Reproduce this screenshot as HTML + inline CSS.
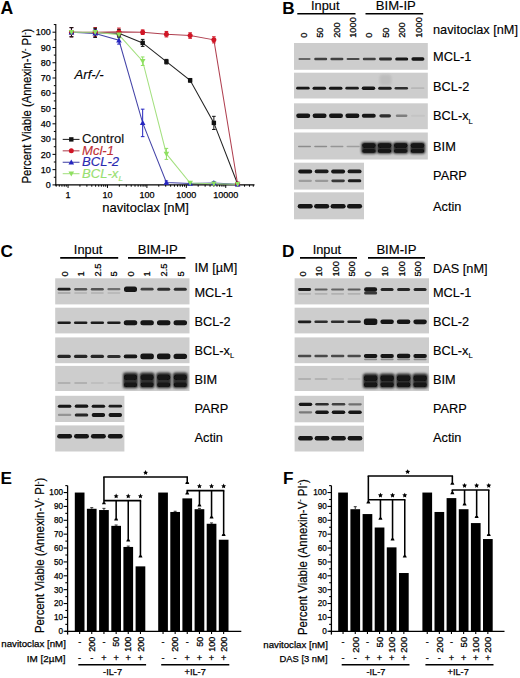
<!DOCTYPE html>
<html><head><meta charset="utf-8"><style>
html,body{margin:0;padding:0;background:#fff;}
body{width:520px;height:678px;overflow:hidden;font-family:"Liberation Sans",sans-serif;}
svg{display:block;}
</style></head><body>
<svg width="520" height="678" viewBox="0 0 520 678" font-family="&quot;Liberation Sans&quot;, sans-serif"><text x="0.60" y="13.90" font-size="17.6" text-anchor="start" font-weight="bold" font-style="normal" fill="#000" >A</text>
<line x1="55.80" y1="24.07" x2="55.80" y2="185.40" stroke="#000" stroke-width="1.1" />
<line x1="55.30" y1="184.90" x2="254.50" y2="184.90" stroke="#000" stroke-width="1.1" />
<line x1="52.50" y1="184.90" x2="55.80" y2="184.90" stroke="#000" stroke-width="1.0" />
<text x="50.80" y="188.10" font-size="9" text-anchor="end" font-weight="normal" font-style="normal" fill="#000" stroke="#000" stroke-width="0.25" >0</text>
<line x1="53.80" y1="177.27" x2="55.80" y2="177.27" stroke="#000" stroke-width="1.0" />
<line x1="52.50" y1="169.63" x2="55.80" y2="169.63" stroke="#000" stroke-width="1.0" />
<text x="50.80" y="172.83" font-size="9" text-anchor="end" font-weight="normal" font-style="normal" fill="#000" stroke="#000" stroke-width="0.25" >10</text>
<line x1="53.80" y1="162.00" x2="55.80" y2="162.00" stroke="#000" stroke-width="1.0" />
<line x1="52.50" y1="154.36" x2="55.80" y2="154.36" stroke="#000" stroke-width="1.0" />
<text x="50.80" y="157.56" font-size="9" text-anchor="end" font-weight="normal" font-style="normal" fill="#000" stroke="#000" stroke-width="0.25" >20</text>
<line x1="53.80" y1="146.73" x2="55.80" y2="146.73" stroke="#000" stroke-width="1.0" />
<line x1="52.50" y1="139.09" x2="55.80" y2="139.09" stroke="#000" stroke-width="1.0" />
<text x="50.80" y="142.29" font-size="9" text-anchor="end" font-weight="normal" font-style="normal" fill="#000" stroke="#000" stroke-width="0.25" >30</text>
<line x1="53.80" y1="131.46" x2="55.80" y2="131.46" stroke="#000" stroke-width="1.0" />
<line x1="52.50" y1="123.82" x2="55.80" y2="123.82" stroke="#000" stroke-width="1.0" />
<text x="50.80" y="127.02" font-size="9" text-anchor="end" font-weight="normal" font-style="normal" fill="#000" stroke="#000" stroke-width="0.25" >40</text>
<line x1="53.80" y1="116.19" x2="55.80" y2="116.19" stroke="#000" stroke-width="1.0" />
<line x1="52.50" y1="108.55" x2="55.80" y2="108.55" stroke="#000" stroke-width="1.0" />
<text x="50.80" y="111.75" font-size="9" text-anchor="end" font-weight="normal" font-style="normal" fill="#000" stroke="#000" stroke-width="0.25" >50</text>
<line x1="53.80" y1="100.92" x2="55.80" y2="100.92" stroke="#000" stroke-width="1.0" />
<line x1="52.50" y1="93.28" x2="55.80" y2="93.28" stroke="#000" stroke-width="1.0" />
<text x="50.80" y="96.48" font-size="9" text-anchor="end" font-weight="normal" font-style="normal" fill="#000" stroke="#000" stroke-width="0.25" >60</text>
<line x1="53.80" y1="85.65" x2="55.80" y2="85.65" stroke="#000" stroke-width="1.0" />
<line x1="52.50" y1="78.01" x2="55.80" y2="78.01" stroke="#000" stroke-width="1.0" />
<text x="50.80" y="81.21" font-size="9" text-anchor="end" font-weight="normal" font-style="normal" fill="#000" stroke="#000" stroke-width="0.25" >70</text>
<line x1="53.80" y1="70.38" x2="55.80" y2="70.38" stroke="#000" stroke-width="1.0" />
<line x1="52.50" y1="62.74" x2="55.80" y2="62.74" stroke="#000" stroke-width="1.0" />
<text x="50.80" y="65.94" font-size="9" text-anchor="end" font-weight="normal" font-style="normal" fill="#000" stroke="#000" stroke-width="0.25" >80</text>
<line x1="53.80" y1="55.11" x2="55.80" y2="55.11" stroke="#000" stroke-width="1.0" />
<line x1="52.50" y1="47.47" x2="55.80" y2="47.47" stroke="#000" stroke-width="1.0" />
<text x="50.80" y="50.67" font-size="9" text-anchor="end" font-weight="normal" font-style="normal" fill="#000" stroke="#000" stroke-width="0.25" >90</text>
<line x1="53.80" y1="39.84" x2="55.80" y2="39.84" stroke="#000" stroke-width="1.0" />
<line x1="52.50" y1="32.20" x2="55.80" y2="32.20" stroke="#000" stroke-width="1.0" />
<text x="50.80" y="35.40" font-size="9" text-anchor="end" font-weight="normal" font-style="normal" fill="#000" stroke="#000" stroke-width="0.25" >100</text>
<line x1="53.80" y1="24.57" x2="55.80" y2="24.57" stroke="#000" stroke-width="1.0" />
<line x1="68.06" y1="184.90" x2="68.06" y2="187.90" stroke="#000" stroke-width="1.0" />
<line x1="79.93" y1="184.90" x2="79.93" y2="186.70" stroke="#000" stroke-width="1.0" />
<line x1="86.87" y1="184.90" x2="86.87" y2="186.70" stroke="#000" stroke-width="1.0" />
<line x1="91.79" y1="184.90" x2="91.79" y2="186.70" stroke="#000" stroke-width="1.0" />
<line x1="95.61" y1="184.90" x2="95.61" y2="186.70" stroke="#000" stroke-width="1.0" />
<line x1="98.73" y1="184.90" x2="98.73" y2="186.70" stroke="#000" stroke-width="1.0" />
<line x1="101.37" y1="184.90" x2="101.37" y2="186.70" stroke="#000" stroke-width="1.0" />
<line x1="103.66" y1="184.90" x2="103.66" y2="186.70" stroke="#000" stroke-width="1.0" />
<line x1="105.68" y1="184.90" x2="105.68" y2="186.70" stroke="#000" stroke-width="1.0" />
<line x1="107.48" y1="184.90" x2="107.48" y2="187.90" stroke="#000" stroke-width="1.0" />
<line x1="119.35" y1="184.90" x2="119.35" y2="186.70" stroke="#000" stroke-width="1.0" />
<line x1="126.29" y1="184.90" x2="126.29" y2="186.70" stroke="#000" stroke-width="1.0" />
<line x1="131.21" y1="184.90" x2="131.21" y2="186.70" stroke="#000" stroke-width="1.0" />
<line x1="135.03" y1="184.90" x2="135.03" y2="186.70" stroke="#000" stroke-width="1.0" />
<line x1="138.15" y1="184.90" x2="138.15" y2="186.70" stroke="#000" stroke-width="1.0" />
<line x1="140.79" y1="184.90" x2="140.79" y2="186.70" stroke="#000" stroke-width="1.0" />
<line x1="143.08" y1="184.90" x2="143.08" y2="186.70" stroke="#000" stroke-width="1.0" />
<line x1="145.10" y1="184.90" x2="145.10" y2="186.70" stroke="#000" stroke-width="1.0" />
<line x1="146.90" y1="184.90" x2="146.90" y2="187.90" stroke="#000" stroke-width="1.0" />
<line x1="158.77" y1="184.90" x2="158.77" y2="186.70" stroke="#000" stroke-width="1.0" />
<line x1="165.71" y1="184.90" x2="165.71" y2="186.70" stroke="#000" stroke-width="1.0" />
<line x1="170.63" y1="184.90" x2="170.63" y2="186.70" stroke="#000" stroke-width="1.0" />
<line x1="174.45" y1="184.90" x2="174.45" y2="186.70" stroke="#000" stroke-width="1.0" />
<line x1="177.57" y1="184.90" x2="177.57" y2="186.70" stroke="#000" stroke-width="1.0" />
<line x1="180.21" y1="184.90" x2="180.21" y2="186.70" stroke="#000" stroke-width="1.0" />
<line x1="182.50" y1="184.90" x2="182.50" y2="186.70" stroke="#000" stroke-width="1.0" />
<line x1="184.52" y1="184.90" x2="184.52" y2="186.70" stroke="#000" stroke-width="1.0" />
<line x1="186.32" y1="184.90" x2="186.32" y2="187.90" stroke="#000" stroke-width="1.0" />
<line x1="198.19" y1="184.90" x2="198.19" y2="186.70" stroke="#000" stroke-width="1.0" />
<line x1="205.13" y1="184.90" x2="205.13" y2="186.70" stroke="#000" stroke-width="1.0" />
<line x1="210.05" y1="184.90" x2="210.05" y2="186.70" stroke="#000" stroke-width="1.0" />
<line x1="213.87" y1="184.90" x2="213.87" y2="186.70" stroke="#000" stroke-width="1.0" />
<line x1="216.99" y1="184.90" x2="216.99" y2="186.70" stroke="#000" stroke-width="1.0" />
<line x1="219.63" y1="184.90" x2="219.63" y2="186.70" stroke="#000" stroke-width="1.0" />
<line x1="221.92" y1="184.90" x2="221.92" y2="186.70" stroke="#000" stroke-width="1.0" />
<line x1="223.94" y1="184.90" x2="223.94" y2="186.70" stroke="#000" stroke-width="1.0" />
<line x1="225.74" y1="184.90" x2="225.74" y2="187.90" stroke="#000" stroke-width="1.0" />
<line x1="237.61" y1="184.90" x2="237.61" y2="186.70" stroke="#000" stroke-width="1.0" />
<line x1="244.55" y1="184.90" x2="244.55" y2="186.70" stroke="#000" stroke-width="1.0" />
<line x1="249.47" y1="184.90" x2="249.47" y2="186.70" stroke="#000" stroke-width="1.0" />
<line x1="253.29" y1="184.90" x2="253.29" y2="186.70" stroke="#000" stroke-width="1.0" />
<line x1="56.19" y1="184.90" x2="56.19" y2="186.70" stroke="#000" stroke-width="1.0" />
<line x1="59.31" y1="184.90" x2="59.31" y2="186.70" stroke="#000" stroke-width="1.0" />
<line x1="61.95" y1="184.90" x2="61.95" y2="186.70" stroke="#000" stroke-width="1.0" />
<line x1="64.24" y1="184.90" x2="64.24" y2="186.70" stroke="#000" stroke-width="1.0" />
<line x1="66.26" y1="184.90" x2="66.26" y2="186.70" stroke="#000" stroke-width="1.0" />
<text x="68.06" y="197.80" font-size="9" text-anchor="middle" font-weight="normal" font-style="normal" fill="#000" stroke="#000" stroke-width="0.25" >1</text>
<text x="107.48" y="197.80" font-size="9" text-anchor="middle" font-weight="normal" font-style="normal" fill="#000" stroke="#000" stroke-width="0.25" >10</text>
<text x="146.90" y="197.80" font-size="9" text-anchor="middle" font-weight="normal" font-style="normal" fill="#000" stroke="#000" stroke-width="0.25" >100</text>
<text x="186.32" y="197.80" font-size="9" text-anchor="middle" font-weight="normal" font-style="normal" fill="#000" stroke="#000" stroke-width="0.25" >1000</text>
<text x="225.74" y="197.80" font-size="9" text-anchor="middle" font-weight="normal" font-style="normal" fill="#000" stroke="#000" stroke-width="0.25" >10000</text>
<text x="145.60" y="211.70" font-size="13.0" text-anchor="middle" font-weight="normal" font-style="normal" fill="#000" stroke="#000" stroke-width="0.14" >navitoclax [nM]</text>
<text transform="translate(31.4,183.6) rotate(-90)" font-size="12.6" stroke="#000" stroke-width="0.2" textLength="155" lengthAdjust="spacingAndGlyphs">Percent Viable (Annexin-V<tspan font-size="8" dy="-4.5">-</tspan><tspan dy="4.5"> PI</tspan><tspan font-size="8" dy="-4.5">-</tspan><tspan dy="4.5">)</tspan></text>
<text x="74.60" y="79.30" font-size="13.1" text-anchor="start" font-weight="normal" font-style="italic" fill="#000" stroke="#000" stroke-width="0.14" >Arf-/-</text>
<polyline points="71.47,32.20 95.21,32.81 118.94,33.27 142.67,42.89 166.41,61.67 190.14,80.30 213.87,122.90 237.61,183.98" fill="none" stroke="#222222" stroke-width="1.05"/>
<polyline points="71.47,32.20 95.21,32.20 118.94,31.89 142.67,32.20 166.41,34.19 190.14,35.56 213.87,39.84 237.61,183.98" fill="none" stroke="#b04050" stroke-width="1.05"/>
<polyline points="71.47,32.20 95.21,33.42 118.94,40.29 142.67,122.90 166.41,182.46 190.14,183.53 213.87,182.91 237.61,184.29" fill="none" stroke="#4545a8" stroke-width="1.05"/>
<polyline points="71.47,32.20 95.21,32.20 118.94,34.80 142.67,61.21 166.41,153.90 190.14,183.07 213.87,183.68 237.61,184.29" fill="none" stroke="#a4e080" stroke-width="1.05"/>
<line x1="71.47" y1="27.62" x2="71.47" y2="36.78" stroke="#8ee060" stroke-width="1.0" />
<line x1="69.67" y1="27.62" x2="73.27" y2="27.62" stroke="#8ee060" stroke-width="1.0" />
<line x1="69.67" y1="36.78" x2="73.27" y2="36.78" stroke="#8ee060" stroke-width="1.0" />
<line x1="95.21" y1="28.38" x2="95.21" y2="36.02" stroke="#8ee060" stroke-width="1.0" />
<line x1="93.41" y1="28.38" x2="97.01" y2="28.38" stroke="#8ee060" stroke-width="1.0" />
<line x1="93.41" y1="36.02" x2="97.01" y2="36.02" stroke="#8ee060" stroke-width="1.0" />
<line x1="118.94" y1="31.74" x2="118.94" y2="37.85" stroke="#8ee060" stroke-width="1.0" />
<line x1="117.14" y1="31.74" x2="120.74" y2="31.74" stroke="#8ee060" stroke-width="1.0" />
<line x1="117.14" y1="37.85" x2="120.74" y2="37.85" stroke="#8ee060" stroke-width="1.0" />
<line x1="142.67" y1="56.94" x2="142.67" y2="65.49" stroke="#8ee060" stroke-width="1.0" />
<line x1="140.87" y1="56.94" x2="144.47" y2="56.94" stroke="#8ee060" stroke-width="1.0" />
<line x1="140.87" y1="65.49" x2="144.47" y2="65.49" stroke="#8ee060" stroke-width="1.0" />
<line x1="166.41" y1="148.40" x2="166.41" y2="159.40" stroke="#8ee060" stroke-width="1.0" />
<line x1="164.61" y1="148.40" x2="168.21" y2="148.40" stroke="#8ee060" stroke-width="1.0" />
<line x1="164.61" y1="159.40" x2="168.21" y2="159.40" stroke="#8ee060" stroke-width="1.0" />
<line x1="190.14" y1="181.85" x2="190.14" y2="184.29" stroke="#8ee060" stroke-width="1.0" />
<line x1="188.34" y1="181.85" x2="191.94" y2="181.85" stroke="#8ee060" stroke-width="1.0" />
<line x1="188.34" y1="184.29" x2="191.94" y2="184.29" stroke="#8ee060" stroke-width="1.0" />
<line x1="213.87" y1="182.76" x2="213.87" y2="184.59" stroke="#8ee060" stroke-width="1.0" />
<line x1="212.07" y1="182.76" x2="215.67" y2="182.76" stroke="#8ee060" stroke-width="1.0" />
<line x1="212.07" y1="184.59" x2="215.67" y2="184.59" stroke="#8ee060" stroke-width="1.0" />
<line x1="71.47" y1="27.62" x2="71.47" y2="36.78" stroke="#2525c0" stroke-width="1.0" />
<line x1="69.67" y1="27.62" x2="73.27" y2="27.62" stroke="#2525c0" stroke-width="1.0" />
<line x1="69.67" y1="36.78" x2="73.27" y2="36.78" stroke="#2525c0" stroke-width="1.0" />
<line x1="95.21" y1="29.60" x2="95.21" y2="37.24" stroke="#2525c0" stroke-width="1.0" />
<line x1="93.41" y1="29.60" x2="97.01" y2="29.60" stroke="#2525c0" stroke-width="1.0" />
<line x1="93.41" y1="37.24" x2="97.01" y2="37.24" stroke="#2525c0" stroke-width="1.0" />
<line x1="118.94" y1="36.48" x2="118.94" y2="44.11" stroke="#2525c0" stroke-width="1.0" />
<line x1="117.14" y1="36.48" x2="120.74" y2="36.48" stroke="#2525c0" stroke-width="1.0" />
<line x1="117.14" y1="44.11" x2="120.74" y2="44.11" stroke="#2525c0" stroke-width="1.0" />
<line x1="142.67" y1="109.16" x2="142.67" y2="136.65" stroke="#2525c0" stroke-width="1.0" />
<line x1="140.87" y1="109.16" x2="144.47" y2="109.16" stroke="#2525c0" stroke-width="1.0" />
<line x1="140.87" y1="136.65" x2="144.47" y2="136.65" stroke="#2525c0" stroke-width="1.0" />
<line x1="166.41" y1="180.93" x2="166.41" y2="183.98" stroke="#2525c0" stroke-width="1.0" />
<line x1="164.61" y1="180.93" x2="168.21" y2="180.93" stroke="#2525c0" stroke-width="1.0" />
<line x1="164.61" y1="183.98" x2="168.21" y2="183.98" stroke="#2525c0" stroke-width="1.0" />
<line x1="190.14" y1="182.76" x2="190.14" y2="184.29" stroke="#2525c0" stroke-width="1.0" />
<line x1="188.34" y1="182.76" x2="191.94" y2="182.76" stroke="#2525c0" stroke-width="1.0" />
<line x1="188.34" y1="184.29" x2="191.94" y2="184.29" stroke="#2525c0" stroke-width="1.0" />
<line x1="213.87" y1="181.69" x2="213.87" y2="184.14" stroke="#2525c0" stroke-width="1.0" />
<line x1="212.07" y1="181.69" x2="215.67" y2="181.69" stroke="#2525c0" stroke-width="1.0" />
<line x1="212.07" y1="184.14" x2="215.67" y2="184.14" stroke="#2525c0" stroke-width="1.0" />
<line x1="71.47" y1="27.62" x2="71.47" y2="36.78" stroke="#d01525" stroke-width="1.0" />
<line x1="69.67" y1="27.62" x2="73.27" y2="27.62" stroke="#d01525" stroke-width="1.0" />
<line x1="69.67" y1="36.78" x2="73.27" y2="36.78" stroke="#d01525" stroke-width="1.0" />
<line x1="95.21" y1="27.62" x2="95.21" y2="36.78" stroke="#d01525" stroke-width="1.0" />
<line x1="93.41" y1="27.62" x2="97.01" y2="27.62" stroke="#d01525" stroke-width="1.0" />
<line x1="93.41" y1="36.78" x2="97.01" y2="36.78" stroke="#d01525" stroke-width="1.0" />
<line x1="118.94" y1="28.08" x2="118.94" y2="35.71" stroke="#d01525" stroke-width="1.0" />
<line x1="117.14" y1="28.08" x2="120.74" y2="28.08" stroke="#d01525" stroke-width="1.0" />
<line x1="117.14" y1="35.71" x2="120.74" y2="35.71" stroke="#d01525" stroke-width="1.0" />
<line x1="142.67" y1="29.91" x2="142.67" y2="34.49" stroke="#d01525" stroke-width="1.0" />
<line x1="140.87" y1="29.91" x2="144.47" y2="29.91" stroke="#d01525" stroke-width="1.0" />
<line x1="140.87" y1="34.49" x2="144.47" y2="34.49" stroke="#d01525" stroke-width="1.0" />
<line x1="166.41" y1="31.44" x2="166.41" y2="36.93" stroke="#d01525" stroke-width="1.0" />
<line x1="164.61" y1="31.44" x2="168.21" y2="31.44" stroke="#d01525" stroke-width="1.0" />
<line x1="164.61" y1="36.93" x2="168.21" y2="36.93" stroke="#d01525" stroke-width="1.0" />
<line x1="190.14" y1="32.81" x2="190.14" y2="38.31" stroke="#d01525" stroke-width="1.0" />
<line x1="188.34" y1="32.81" x2="191.94" y2="32.81" stroke="#d01525" stroke-width="1.0" />
<line x1="188.34" y1="38.31" x2="191.94" y2="38.31" stroke="#d01525" stroke-width="1.0" />
<line x1="213.87" y1="36.78" x2="213.87" y2="42.89" stroke="#d01525" stroke-width="1.0" />
<line x1="212.07" y1="36.78" x2="215.67" y2="36.78" stroke="#d01525" stroke-width="1.0" />
<line x1="212.07" y1="42.89" x2="215.67" y2="42.89" stroke="#d01525" stroke-width="1.0" />
<line x1="71.47" y1="27.62" x2="71.47" y2="36.78" stroke="#111111" stroke-width="1.0" />
<line x1="69.67" y1="27.62" x2="73.27" y2="27.62" stroke="#111111" stroke-width="1.0" />
<line x1="69.67" y1="36.78" x2="73.27" y2="36.78" stroke="#111111" stroke-width="1.0" />
<line x1="95.21" y1="28.23" x2="95.21" y2="37.39" stroke="#111111" stroke-width="1.0" />
<line x1="93.41" y1="28.23" x2="97.01" y2="28.23" stroke="#111111" stroke-width="1.0" />
<line x1="93.41" y1="37.39" x2="97.01" y2="37.39" stroke="#111111" stroke-width="1.0" />
<line x1="118.94" y1="29.45" x2="118.94" y2="37.09" stroke="#111111" stroke-width="1.0" />
<line x1="117.14" y1="29.45" x2="120.74" y2="29.45" stroke="#111111" stroke-width="1.0" />
<line x1="117.14" y1="37.09" x2="120.74" y2="37.09" stroke="#111111" stroke-width="1.0" />
<line x1="142.67" y1="39.38" x2="142.67" y2="46.40" stroke="#111111" stroke-width="1.0" />
<line x1="140.87" y1="39.38" x2="144.47" y2="39.38" stroke="#111111" stroke-width="1.0" />
<line x1="140.87" y1="46.40" x2="144.47" y2="46.40" stroke="#111111" stroke-width="1.0" />
<line x1="166.41" y1="59.38" x2="166.41" y2="63.96" stroke="#111111" stroke-width="1.0" />
<line x1="164.61" y1="59.38" x2="168.21" y2="59.38" stroke="#111111" stroke-width="1.0" />
<line x1="164.61" y1="63.96" x2="168.21" y2="63.96" stroke="#111111" stroke-width="1.0" />
<line x1="190.14" y1="78.47" x2="190.14" y2="82.13" stroke="#111111" stroke-width="1.0" />
<line x1="188.34" y1="78.47" x2="191.94" y2="78.47" stroke="#111111" stroke-width="1.0" />
<line x1="188.34" y1="82.13" x2="191.94" y2="82.13" stroke="#111111" stroke-width="1.0" />
<line x1="213.87" y1="116.34" x2="213.87" y2="129.47" stroke="#111111" stroke-width="1.0" />
<line x1="212.07" y1="116.34" x2="215.67" y2="116.34" stroke="#111111" stroke-width="1.0" />
<line x1="212.07" y1="129.47" x2="215.67" y2="129.47" stroke="#111111" stroke-width="1.0" />
<rect x="69.27" y="30.00" width="4.40" height="4.40" fill="#111111" />
<rect x="93.01" y="30.61" width="4.40" height="4.40" fill="#111111" />
<rect x="116.74" y="31.07" width="4.40" height="4.40" fill="#111111" />
<rect x="140.47" y="40.69" width="4.40" height="4.40" fill="#111111" />
<rect x="164.21" y="59.47" width="4.40" height="4.40" fill="#111111" />
<rect x="187.94" y="78.10" width="4.40" height="4.40" fill="#111111" />
<rect x="211.67" y="120.70" width="4.40" height="4.40" fill="#111111" />
<rect x="235.41" y="181.78" width="4.40" height="4.40" fill="#111111" />
<circle cx="71.47" cy="32.20" r="2.5" fill="#d01525"/>
<circle cx="95.21" cy="32.20" r="2.5" fill="#d01525"/>
<circle cx="118.94" cy="31.89" r="2.5" fill="#d01525"/>
<circle cx="142.67" cy="32.20" r="2.5" fill="#d01525"/>
<circle cx="166.41" cy="34.19" r="2.5" fill="#d01525"/>
<circle cx="190.14" cy="35.56" r="2.5" fill="#d01525"/>
<circle cx="213.87" cy="39.84" r="2.5" fill="#d01525"/>
<circle cx="237.61" cy="183.98" r="2.5" fill="#d01525"/>
<path d="M68.67,34.40 L74.27,34.40 L71.47,29.40Z" fill="#2525c0"/>
<path d="M92.41,35.62 L98.01,35.62 L95.21,30.62Z" fill="#2525c0"/>
<path d="M116.14,42.49 L121.74,42.49 L118.94,37.49Z" fill="#2525c0"/>
<path d="M139.87,125.10 L145.47,125.10 L142.67,120.10Z" fill="#2525c0"/>
<path d="M163.61,184.66 L169.21,184.66 L166.41,179.66Z" fill="#2525c0"/>
<path d="M187.34,185.73 L192.94,185.73 L190.14,180.73Z" fill="#2525c0"/>
<path d="M211.07,185.11 L216.67,185.11 L213.87,180.11Z" fill="#2525c0"/>
<path d="M234.81,186.49 L240.41,186.49 L237.61,181.49Z" fill="#2525c0"/>
<path d="M68.67,30.00 L74.27,30.00 L71.47,35.00Z" fill="#8ee060"/>
<path d="M92.41,30.00 L98.01,30.00 L95.21,35.00Z" fill="#8ee060"/>
<path d="M116.14,32.60 L121.74,32.60 L118.94,37.60Z" fill="#8ee060"/>
<path d="M139.87,59.01 L145.47,59.01 L142.67,64.01Z" fill="#8ee060"/>
<path d="M163.61,151.70 L169.21,151.70 L166.41,156.70Z" fill="#8ee060"/>
<path d="M187.34,180.87 L192.94,180.87 L190.14,185.87Z" fill="#8ee060"/>
<path d="M211.07,181.48 L216.67,181.48 L213.87,186.48Z" fill="#8ee060"/>
<path d="M234.81,182.09 L240.41,182.09 L237.61,187.09Z" fill="#8ee060"/>
<line x1="62.70" y1="139.40" x2="79.50" y2="139.40" stroke="#222222" stroke-width="1.05" />
<rect x="69.10" y="137.20" width="4.40" height="4.40" fill="#111111" />
<text x="82.00" y="143.40" font-size="13.1" text-anchor="start" font-weight="normal" font-style="normal" fill="#111111" stroke="#111111" stroke-width="0.14" >Control</text>
<line x1="62.70" y1="150.83" x2="79.50" y2="150.83" stroke="#b04050" stroke-width="1.05" />
<circle cx="71.30" cy="150.83" r="2.5" fill="#d01525"/>
<text x="82.00" y="154.83" font-size="13.1" text-anchor="start" font-weight="normal" font-style="italic" fill="#c03035" stroke="#c03035" stroke-width="0.14" >Mcl-1</text>
<line x1="62.70" y1="162.26" x2="79.50" y2="162.26" stroke="#4545a8" stroke-width="1.05" />
<path d="M68.50,164.46 L74.10,164.46 L71.30,159.46Z" fill="#2525c0"/>
<text x="82.00" y="166.26" font-size="13.1" text-anchor="start" font-weight="normal" font-style="italic" fill="#2a2ab0" stroke="#2a2ab0" stroke-width="0.14" >BCL-2</text>
<line x1="62.70" y1="173.69" x2="79.50" y2="173.69" stroke="#a4e080" stroke-width="1.05" />
<path d="M68.50,171.49 L74.10,171.49 L71.30,176.49Z" fill="#8ee060"/>
<text x="82.00" y="177.69" font-size="13.1" text-anchor="start" font-weight="normal" font-style="italic" fill="#98e070" stroke="#98e070" stroke-width="0.14" >BCL-x<tspan font-size="8" dy="3">L</tspan></text>
<defs><filter id="b1" x="-30%" y="-150%" width="160%" height="400%"><feGaussianBlur stdDeviation="0.75"/></filter><filter id="b2" x="-30%" y="-60%" width="160%" height="220%"><feGaussianBlur stdDeviation="1.0"/></filter></defs>
<text x="282.20" y="13.50" font-size="17.2" text-anchor="start" font-weight="bold" font-style="normal" fill="#000" >B</text>
<text x="325.30" y="10.40" font-size="12.8" text-anchor="middle" font-weight="normal" font-style="normal" fill="#000" stroke="#000" stroke-width="0.14" >Input</text>
<text x="395.80" y="10.40" font-size="13.1" text-anchor="middle" font-weight="normal" font-style="normal" fill="#000" stroke="#000" stroke-width="0.14" >BIM-IP</text>
<line x1="297.30" y1="13.80" x2="355.50" y2="13.80" stroke="#000" stroke-width="1.6" />
<line x1="365.50" y1="13.80" x2="423.20" y2="13.80" stroke="#000" stroke-width="1.6" />
<text transform="translate(307.08,37.80) rotate(-90)" font-size="9.3" text-anchor="start" fill="#000" stroke="#000" stroke-width="0.25">0</text>
<text transform="translate(323.33,37.80) rotate(-90)" font-size="9.3" text-anchor="start" fill="#000" stroke="#000" stroke-width="0.25">50</text>
<text transform="translate(339.53,37.80) rotate(-90)" font-size="9.3" text-anchor="start" fill="#000" stroke="#000" stroke-width="0.25">200</text>
<text transform="translate(356.13,37.80) rotate(-90)" font-size="9.3" text-anchor="start" fill="#000" stroke="#000" stroke-width="0.25">1000</text>
<text transform="translate(372.13,37.80) rotate(-90)" font-size="9.3" text-anchor="start" fill="#000" stroke="#000" stroke-width="0.25">0</text>
<text transform="translate(388.53,37.80) rotate(-90)" font-size="9.3" text-anchor="start" fill="#000" stroke="#000" stroke-width="0.25">50</text>
<text transform="translate(405.33,37.80) rotate(-90)" font-size="9.3" text-anchor="start" fill="#000" stroke="#000" stroke-width="0.25">200</text>
<text transform="translate(421.93,37.80) rotate(-90)" font-size="9.3" text-anchor="start" fill="#000" stroke="#000" stroke-width="0.25">1000</text>
<text x="433.00" y="33.80" font-size="12.75" text-anchor="start" font-weight="normal" font-style="normal" fill="#000" stroke="#000" stroke-width="0.14" >navitoclax [nM]</text>
<rect x="294.00" y="43.00" width="133.80" height="26.80" fill="#cdcdcd" />
<rect x="298.45" y="58.00" width="12.09" height="2.00" rx="1.00" fill="rgb(102,102,102)" filter="url(#b1)"/>
<rect x="314.19" y="57.80" width="13.02" height="2.40" rx="1.20" fill="rgb(65,65,65)" filter="url(#b1)"/>
<rect x="330.39" y="57.80" width="13.02" height="2.40" rx="1.20" fill="rgb(65,65,65)" filter="url(#b1)"/>
<rect x="346.59" y="57.90" width="13.02" height="2.20" rx="1.10" fill="rgb(74,74,74)" filter="url(#b1)"/>
<rect x="362.79" y="57.80" width="13.02" height="2.40" rx="1.20" fill="rgb(65,65,65)" filter="url(#b1)"/>
<rect x="378.99" y="57.60" width="13.02" height="2.80" rx="1.40" fill="rgb(46,46,46)" filter="url(#b1)"/>
<rect x="395.19" y="57.40" width="13.02" height="3.20" rx="1.60" fill="rgb(18,18,18)" filter="url(#b1)"/>
<rect x="411.39" y="57.30" width="13.02" height="3.40" rx="1.70" fill="rgb(18,18,18)" filter="url(#b1)"/>
<text x="433.10" y="61.40" font-size="12.75" text-anchor="start" font-weight="normal" font-style="normal" fill="#000" stroke="#000" stroke-width="0.14" >MCL-1</text>
<rect x="294.00" y="72.70" width="133.80" height="25.80" fill="#cdcdcd" />
<rect x="296.16" y="86.80" width="13.49" height="2.80" rx="1.40" fill="rgb(18,18,18)" filter="url(#b1)"/>
<rect x="312.56" y="86.70" width="13.49" height="3.00" rx="1.50" fill="rgb(18,18,18)" filter="url(#b1)"/>
<rect x="328.96" y="86.70" width="13.49" height="3.00" rx="1.50" fill="rgb(18,18,18)" filter="url(#b1)"/>
<rect x="345.36" y="86.80" width="13.49" height="2.80" rx="1.40" fill="rgb(27,27,27)" filter="url(#b1)"/>
<rect x="361.76" y="86.40" width="13.49" height="3.60" rx="1.80" fill="rgb(18,18,18)" filter="url(#b1)"/>
<rect x="378.16" y="86.70" width="13.49" height="3.00" rx="1.50" fill="rgb(27,27,27)" filter="url(#b1)"/>
<rect x="394.56" y="86.90" width="13.49" height="2.60" rx="1.30" fill="rgb(46,46,46)" filter="url(#b1)"/>
<rect x="410.96" y="87.30" width="13.49" height="1.80" rx="0.90" fill="rgb(183,183,183)" filter="url(#b1)"/>
<rect x="379.5" y="74.5" width="12" height="11" rx="3" fill="rgb(180,180,180)" opacity="0.6" filter="url(#b2)"/>
<text x="433.10" y="91.30" font-size="12.75" text-anchor="start" font-weight="normal" font-style="normal" fill="#000" stroke="#000" stroke-width="0.14" >BCL-2</text>
<rect x="294.00" y="103.30" width="133.80" height="25.90" fill="#cdcdcd" />
<rect x="296.22" y="113.60" width="13.95" height="4.40" rx="2.20" fill="rgb(18,18,18)" filter="url(#b1)"/>
<rect x="312.62" y="113.60" width="13.95" height="4.40" rx="2.20" fill="rgb(18,18,18)" filter="url(#b1)"/>
<rect x="329.02" y="113.60" width="13.95" height="4.40" rx="2.20" fill="rgb(18,18,18)" filter="url(#b1)"/>
<rect x="345.42" y="113.60" width="13.95" height="4.40" rx="2.20" fill="rgb(18,18,18)" filter="url(#b1)"/>
<rect x="361.82" y="113.80" width="13.95" height="4.00" rx="2.00" fill="rgb(24,24,24)" filter="url(#b1)"/>
<rect x="379.39" y="114.20" width="11.62" height="3.20" rx="1.60" fill="rgb(46,46,46)" filter="url(#b1)"/>
<rect x="395.79" y="114.50" width="11.62" height="2.60" rx="1.30" fill="rgb(126,126,126)" filter="url(#b1)"/>
<rect x="411.02" y="114.80" width="13.95" height="2.00" rx="1.00" fill="rgb(196,196,196)" filter="url(#b1)"/>
<text x="433.10" y="120.20" font-size="12.75" text-anchor="start" font-weight="normal" font-style="normal" fill="#000" stroke="#000" stroke-width="0.14" >BCL-x<tspan font-size="7.5" dy="3.5">L</tspan></text>
<rect x="294.00" y="132.50" width="133.80" height="27.00" fill="#cdcdcd" />
<rect x="297.99" y="145.75" width="13.02" height="1.50" rx="0.75" fill="rgb(140,140,140)" filter="url(#b1)"/>
<rect x="314.19" y="145.75" width="13.02" height="1.50" rx="0.75" fill="rgb(140,140,140)" filter="url(#b1)"/>
<rect x="330.39" y="145.75" width="13.02" height="1.50" rx="0.75" fill="rgb(149,149,149)" filter="url(#b1)"/>
<rect x="346.59" y="145.75" width="13.02" height="1.50" rx="0.75" fill="rgb(158,158,158)" filter="url(#b1)"/>
<rect x="361.30" y="142.30" width="15.40" height="11.50" rx="2.5" fill="rgb(46,46,46)" filter="url(#b2)"/>
<rect x="362.30" y="143.30" width="13.39" height="4.60" rx="2.30" fill="rgb(18,18,18)" filter="url(#b1)"/>
<rect x="362.30" y="149.20" width="13.39" height="3.60" rx="1.80" fill="rgb(18,18,18)" filter="url(#b1)"/>
<rect x="376.90" y="142.30" width="15.40" height="11.50" rx="2.5" fill="rgb(46,46,46)" filter="url(#b2)"/>
<rect x="377.90" y="143.30" width="13.39" height="4.60" rx="2.30" fill="rgb(18,18,18)" filter="url(#b1)"/>
<rect x="377.90" y="149.20" width="13.39" height="3.60" rx="1.80" fill="rgb(18,18,18)" filter="url(#b1)"/>
<rect x="393.00" y="142.30" width="15.40" height="11.50" rx="2.5" fill="rgb(46,46,46)" filter="url(#b2)"/>
<rect x="394.00" y="143.30" width="13.39" height="4.60" rx="2.30" fill="rgb(18,18,18)" filter="url(#b1)"/>
<rect x="394.00" y="149.20" width="13.39" height="3.60" rx="1.80" fill="rgb(18,18,18)" filter="url(#b1)"/>
<rect x="409.80" y="142.30" width="15.40" height="11.50" rx="2.5" fill="rgb(46,46,46)" filter="url(#b2)"/>
<rect x="410.80" y="143.30" width="13.39" height="4.60" rx="2.30" fill="rgb(18,18,18)" filter="url(#b1)"/>
<rect x="410.80" y="149.20" width="13.39" height="3.60" rx="1.80" fill="rgb(18,18,18)" filter="url(#b1)"/>
<text x="433.10" y="150.60" font-size="12.75" text-anchor="start" font-weight="normal" font-style="normal" fill="#000" stroke="#000" stroke-width="0.14" >BIM</text>
<rect x="294.00" y="162.70" width="70.00" height="26.90" fill="#cdcdcd" />
<rect x="298.22" y="169.40" width="13.95" height="4.00" rx="2.00" fill="rgb(18,18,18)" filter="url(#b1)"/>
<rect x="314.67" y="169.60" width="13.95" height="3.60" rx="1.80" fill="rgb(27,27,27)" filter="url(#b1)"/>
<rect x="331.12" y="169.40" width="13.95" height="4.00" rx="2.00" fill="rgb(18,18,18)" filter="url(#b1)"/>
<rect x="347.57" y="169.50" width="13.95" height="3.80" rx="1.90" fill="rgb(27,27,27)" filter="url(#b1)"/>
<rect x="298.46" y="179.70" width="13.49" height="2.20" rx="1.10" fill="rgb(158,158,158)" filter="url(#b1)"/>
<rect x="314.91" y="179.70" width="13.49" height="2.20" rx="1.10" fill="rgb(153,153,153)" filter="url(#b1)"/>
<rect x="331.36" y="179.40" width="13.49" height="2.80" rx="1.40" fill="rgb(55,55,55)" filter="url(#b1)"/>
<rect x="347.81" y="179.30" width="13.49" height="3.00" rx="1.50" fill="rgb(27,27,27)" filter="url(#b1)"/>
<text x="433.10" y="180.00" font-size="12.75" text-anchor="start" font-weight="normal" font-style="normal" fill="#000" stroke="#000" stroke-width="0.14" >PARP</text>
<rect x="294.00" y="192.30" width="70.00" height="27.00" fill="#cdcdcd" />
<rect x="297.67" y="204.00" width="15.07" height="4.60" rx="2.30" fill="rgb(18,18,18)" filter="url(#b1)"/>
<rect x="314.12" y="204.00" width="15.07" height="4.60" rx="2.30" fill="rgb(18,18,18)" filter="url(#b1)"/>
<rect x="330.57" y="204.00" width="15.07" height="4.60" rx="2.30" fill="rgb(18,18,18)" filter="url(#b1)"/>
<rect x="347.02" y="204.00" width="15.07" height="4.60" rx="2.30" fill="rgb(18,18,18)" filter="url(#b1)"/>
<text x="433.10" y="210.50" font-size="12.75" text-anchor="start" font-weight="normal" font-style="normal" fill="#000" stroke="#000" stroke-width="0.14" >Actin</text>
<text x="0.60" y="256.50" font-size="17.2" text-anchor="start" font-weight="bold" font-style="normal" fill="#000" >C</text>
<text x="88.10" y="254.10" font-size="12.8" text-anchor="middle" font-weight="normal" font-style="normal" fill="#000" stroke="#000" stroke-width="0.14" >Input</text>
<text x="157.70" y="254.10" font-size="13.1" text-anchor="middle" font-weight="normal" font-style="normal" fill="#000" stroke="#000" stroke-width="0.14" >BIM-IP</text>
<line x1="60.20" y1="257.90" x2="118.20" y2="257.90" stroke="#000" stroke-width="1.6" />
<line x1="128.00" y1="257.90" x2="185.50" y2="257.90" stroke="#000" stroke-width="1.6" />
<text transform="translate(67.83,276.50) rotate(-90)" font-size="9.3" text-anchor="start" fill="#000" stroke="#000" stroke-width="0.25">0</text>
<text transform="translate(83.93,276.50) rotate(-90)" font-size="9.3" text-anchor="start" fill="#000" stroke="#000" stroke-width="0.25">1</text>
<text transform="translate(100.83,276.50) rotate(-90)" font-size="9.3" text-anchor="start" fill="#000" stroke="#000" stroke-width="0.25">2.5</text>
<text transform="translate(117.13,276.50) rotate(-90)" font-size="9.3" text-anchor="start" fill="#000" stroke="#000" stroke-width="0.25">5</text>
<text transform="translate(133.83,276.50) rotate(-90)" font-size="9.3" text-anchor="start" fill="#000" stroke="#000" stroke-width="0.25">0</text>
<text transform="translate(150.33,276.50) rotate(-90)" font-size="9.3" text-anchor="start" fill="#000" stroke="#000" stroke-width="0.25">1</text>
<text transform="translate(167.13,276.50) rotate(-90)" font-size="9.3" text-anchor="start" fill="#000" stroke="#000" stroke-width="0.25">2.5</text>
<text transform="translate(184.13,276.50) rotate(-90)" font-size="9.3" text-anchor="start" fill="#000" stroke="#000" stroke-width="0.25">5</text>
<text x="194.50" y="272.20" font-size="12.75" text-anchor="start" font-weight="normal" font-style="normal" fill="#000" stroke="#000" stroke-width="0.14" >IM [<tspan>µ</tspan>M]</text>
<rect x="55.20" y="278.30" width="134.30" height="26.10" fill="#cdcdcd" />
<rect x="57.59" y="292.10" width="13.02" height="1.80" rx="0.90" fill="rgb(171,171,171)" filter="url(#b1)"/>
<rect x="74.19" y="292.10" width="13.02" height="1.80" rx="0.90" fill="rgb(183,183,183)" filter="url(#b1)"/>
<rect x="90.79" y="292.10" width="13.02" height="1.80" rx="0.90" fill="rgb(183,183,183)" filter="url(#b1)"/>
<rect x="107.39" y="292.10" width="13.02" height="1.80" rx="0.90" fill="rgb(186,186,186)" filter="url(#b1)"/>
<rect x="57.59" y="287.80" width="13.02" height="2.80" rx="1.40" fill="rgb(27,27,27)" filter="url(#b1)"/>
<rect x="74.19" y="288.00" width="13.02" height="2.40" rx="1.20" fill="rgb(83,83,83)" filter="url(#b1)"/>
<rect x="90.79" y="288.00" width="13.02" height="2.40" rx="1.20" fill="rgb(83,83,83)" filter="url(#b1)"/>
<rect x="107.39" y="288.10" width="13.02" height="2.20" rx="1.10" fill="rgb(112,112,112)" filter="url(#b1)"/>
<rect x="123.99" y="286.45" width="13.02" height="5.50" rx="2.50" fill="rgb(18,18,18)" filter="url(#b1)"/>
<rect x="140.59" y="287.80" width="13.02" height="2.80" rx="1.40" fill="rgb(65,65,65)" filter="url(#b1)"/>
<rect x="157.19" y="287.70" width="13.02" height="3.00" rx="1.50" fill="rgb(46,46,46)" filter="url(#b1)"/>
<rect x="173.79" y="287.70" width="13.02" height="3.00" rx="1.50" fill="rgb(46,46,46)" filter="url(#b1)"/>
<text x="194.50" y="297.00" font-size="12.75" text-anchor="start" font-weight="normal" font-style="normal" fill="#000" stroke="#000" stroke-width="0.14" >MCL-1</text>
<rect x="55.20" y="307.70" width="134.30" height="25.70" fill="#cdcdcd" />
<rect x="57.36" y="321.50" width="13.49" height="2.60" rx="1.30" fill="rgb(27,27,27)" filter="url(#b1)"/>
<rect x="73.96" y="321.50" width="13.49" height="2.60" rx="1.30" fill="rgb(27,27,27)" filter="url(#b1)"/>
<rect x="90.56" y="321.50" width="13.49" height="2.60" rx="1.30" fill="rgb(27,27,27)" filter="url(#b1)"/>
<rect x="107.16" y="321.50" width="13.49" height="2.60" rx="1.30" fill="rgb(27,27,27)" filter="url(#b1)"/>
<rect x="123.76" y="320.30" width="13.49" height="5.00" rx="2.50" fill="rgb(18,18,18)" filter="url(#b1)"/>
<rect x="140.36" y="320.30" width="13.49" height="5.00" rx="2.50" fill="rgb(18,18,18)" filter="url(#b1)"/>
<rect x="156.96" y="320.30" width="13.49" height="5.00" rx="2.50" fill="rgb(18,18,18)" filter="url(#b1)"/>
<rect x="173.56" y="320.30" width="13.49" height="5.00" rx="2.50" fill="rgb(18,18,18)" filter="url(#b1)"/>
<text x="194.50" y="325.80" font-size="12.75" text-anchor="start" font-weight="normal" font-style="normal" fill="#000" stroke="#000" stroke-width="0.14" >BCL-2</text>
<rect x="55.20" y="337.40" width="134.30" height="25.80" fill="#cdcdcd" />
<rect x="57.36" y="354.80" width="13.49" height="3.20" rx="1.60" fill="rgb(37,37,37)" filter="url(#b1)"/>
<rect x="73.96" y="354.80" width="13.49" height="3.20" rx="1.60" fill="rgb(37,37,37)" filter="url(#b1)"/>
<rect x="90.56" y="354.80" width="13.49" height="3.20" rx="1.60" fill="rgb(37,37,37)" filter="url(#b1)"/>
<rect x="107.16" y="354.90" width="13.49" height="3.00" rx="1.50" fill="rgb(46,46,46)" filter="url(#b1)"/>
<rect x="123.76" y="354.50" width="13.49" height="3.80" rx="1.90" fill="rgb(18,18,18)" filter="url(#b1)"/>
<rect x="140.36" y="353.60" width="13.49" height="5.60" rx="2.50" fill="rgb(18,18,18)" filter="url(#b1)"/>
<rect x="156.96" y="353.60" width="13.49" height="5.60" rx="2.50" fill="rgb(18,18,18)" filter="url(#b1)"/>
<rect x="173.56" y="353.70" width="13.49" height="5.40" rx="2.50" fill="rgb(18,18,18)" filter="url(#b1)"/>
<text x="194.50" y="354.50" font-size="12.75" text-anchor="start" font-weight="normal" font-style="normal" fill="#000" stroke="#000" stroke-width="0.14" >BCL-x<tspan font-size="7.5" dy="3.5">L</tspan></text>
<rect x="55.20" y="365.90" width="134.30" height="25.10" fill="#cdcdcd" />
<rect x="57.59" y="382.10" width="13.02" height="1.80" rx="0.90" fill="rgb(177,177,177)" filter="url(#b1)"/>
<rect x="74.19" y="382.10" width="13.02" height="1.80" rx="0.90" fill="rgb(177,177,177)" filter="url(#b1)"/>
<rect x="90.79" y="382.20" width="13.02" height="1.60" rx="0.80" fill="rgb(186,186,186)" filter="url(#b1)"/>
<rect x="107.39" y="382.20" width="13.02" height="1.60" rx="0.80" fill="rgb(192,192,192)" filter="url(#b1)"/>
<rect x="123.00" y="372.60" width="15.00" height="15.60" rx="2.5" fill="rgb(46,46,46)" filter="url(#b2)"/>
<rect x="123.99" y="374.70" width="13.02" height="5.40" rx="2.50" fill="rgb(18,18,18)" filter="url(#b1)"/>
<rect x="123.99" y="382.50" width="13.02" height="4.60" rx="2.30" fill="rgb(18,18,18)" filter="url(#b1)"/>
<rect x="139.60" y="372.60" width="15.00" height="15.60" rx="2.5" fill="rgb(46,46,46)" filter="url(#b2)"/>
<rect x="140.59" y="374.70" width="13.02" height="5.40" rx="2.50" fill="rgb(18,18,18)" filter="url(#b1)"/>
<rect x="140.59" y="382.50" width="13.02" height="4.60" rx="2.30" fill="rgb(18,18,18)" filter="url(#b1)"/>
<rect x="156.20" y="372.60" width="15.00" height="15.60" rx="2.5" fill="rgb(46,46,46)" filter="url(#b2)"/>
<rect x="157.19" y="374.70" width="13.02" height="5.40" rx="2.50" fill="rgb(18,18,18)" filter="url(#b1)"/>
<rect x="157.19" y="382.50" width="13.02" height="4.60" rx="2.30" fill="rgb(18,18,18)" filter="url(#b1)"/>
<rect x="172.80" y="372.60" width="15.00" height="15.60" rx="2.5" fill="rgb(46,46,46)" filter="url(#b2)"/>
<rect x="173.79" y="374.70" width="13.02" height="5.40" rx="2.50" fill="rgb(18,18,18)" filter="url(#b1)"/>
<rect x="173.79" y="382.50" width="13.02" height="4.60" rx="2.30" fill="rgb(18,18,18)" filter="url(#b1)"/>
<text x="194.50" y="384.30" font-size="12.75" text-anchor="start" font-weight="normal" font-style="normal" fill="#000" stroke="#000" stroke-width="0.14" >BIM</text>
<rect x="55.20" y="395.80" width="69.20" height="26.20" fill="#cdcdcd" />
<rect x="57.86" y="404.70" width="13.49" height="3.00" rx="1.50" fill="rgb(18,18,18)" filter="url(#b1)"/>
<rect x="74.76" y="404.60" width="13.49" height="3.20" rx="1.60" fill="rgb(18,18,18)" filter="url(#b1)"/>
<rect x="91.66" y="404.70" width="13.49" height="3.00" rx="1.50" fill="rgb(18,18,18)" filter="url(#b1)"/>
<rect x="108.56" y="404.80" width="13.49" height="2.80" rx="1.40" fill="rgb(27,27,27)" filter="url(#b1)"/>
<rect x="57.86" y="413.80" width="13.49" height="2.20" rx="1.10" fill="rgb(149,149,149)" filter="url(#b1)"/>
<rect x="74.76" y="413.40" width="13.49" height="3.00" rx="1.50" fill="rgb(37,37,37)" filter="url(#b1)"/>
<rect x="91.66" y="412.90" width="13.49" height="4.00" rx="2.00" fill="rgb(18,18,18)" filter="url(#b1)"/>
<rect x="108.56" y="412.90" width="13.49" height="4.00" rx="2.00" fill="rgb(18,18,18)" filter="url(#b1)"/>
<text x="194.50" y="412.70" font-size="12.75" text-anchor="start" font-weight="normal" font-style="normal" fill="#000" stroke="#000" stroke-width="0.14" >PARP</text>
<rect x="55.20" y="425.40" width="69.20" height="26.10" fill="#cdcdcd" />
<rect x="57.16" y="434.00" width="14.88" height="4.60" rx="2.30" fill="rgb(18,18,18)" filter="url(#b1)"/>
<rect x="74.06" y="434.00" width="14.88" height="4.60" rx="2.30" fill="rgb(18,18,18)" filter="url(#b1)"/>
<rect x="90.96" y="434.10" width="14.88" height="4.40" rx="2.20" fill="rgb(18,18,18)" filter="url(#b1)"/>
<rect x="107.86" y="434.10" width="14.88" height="4.40" rx="2.20" fill="rgb(18,18,18)" filter="url(#b1)"/>
<text x="194.50" y="441.90" font-size="12.75" text-anchor="start" font-weight="normal" font-style="normal" fill="#000" stroke="#000" stroke-width="0.14" >Actin</text>
<text x="282.00" y="256.50" font-size="17.2" text-anchor="start" font-weight="bold" font-style="normal" fill="#000" >D</text>
<text x="326.90" y="254.10" font-size="12.8" text-anchor="middle" font-weight="normal" font-style="normal" fill="#000" stroke="#000" stroke-width="0.14" >Input</text>
<text x="396.40" y="254.10" font-size="13.1" text-anchor="middle" font-weight="normal" font-style="normal" fill="#000" stroke="#000" stroke-width="0.14" >BIM-IP</text>
<line x1="300.00" y1="257.90" x2="357.00" y2="257.90" stroke="#000" stroke-width="1.6" />
<line x1="368.00" y1="257.90" x2="425.00" y2="257.90" stroke="#000" stroke-width="1.6" />
<text transform="translate(305.83,276.60) rotate(-90)" font-size="9.3" text-anchor="start" fill="#000" stroke="#000" stroke-width="0.25">0</text>
<text transform="translate(322.13,276.60) rotate(-90)" font-size="9.3" text-anchor="start" fill="#000" stroke="#000" stroke-width="0.25">10</text>
<text transform="translate(339.13,276.60) rotate(-90)" font-size="9.3" text-anchor="start" fill="#000" stroke="#000" stroke-width="0.25">100</text>
<text transform="translate(355.33,276.60) rotate(-90)" font-size="9.3" text-anchor="start" fill="#000" stroke="#000" stroke-width="0.25">500</text>
<text transform="translate(371.33,276.60) rotate(-90)" font-size="9.3" text-anchor="start" fill="#000" stroke="#000" stroke-width="0.25">0</text>
<text transform="translate(388.33,276.60) rotate(-90)" font-size="9.3" text-anchor="start" fill="#000" stroke="#000" stroke-width="0.25">10</text>
<text transform="translate(404.63,276.60) rotate(-90)" font-size="9.3" text-anchor="start" fill="#000" stroke="#000" stroke-width="0.25">100</text>
<text transform="translate(420.83,276.60) rotate(-90)" font-size="9.3" text-anchor="start" fill="#000" stroke="#000" stroke-width="0.25">500</text>
<text x="433.00" y="273.00" font-size="12.75" text-anchor="start" font-weight="normal" font-style="normal" fill="#000" stroke="#000" stroke-width="0.14" >DAS [nM]</text>
<rect x="294.60" y="278.30" width="134.40" height="26.10" fill="#cdcdcd" />
<rect x="298.09" y="292.90" width="13.02" height="1.80" rx="0.90" fill="rgb(177,177,177)" filter="url(#b1)"/>
<rect x="314.59" y="292.90" width="13.02" height="1.80" rx="0.90" fill="rgb(177,177,177)" filter="url(#b1)"/>
<rect x="331.09" y="292.90" width="13.02" height="1.80" rx="0.90" fill="rgb(177,177,177)" filter="url(#b1)"/>
<rect x="347.59" y="292.90" width="13.02" height="1.80" rx="0.90" fill="rgb(177,177,177)" filter="url(#b1)"/>
<rect x="298.09" y="288.10" width="13.02" height="2.80" rx="1.40" fill="rgb(27,27,27)" filter="url(#b1)"/>
<rect x="314.59" y="288.40" width="13.02" height="2.20" rx="1.10" fill="rgb(93,93,93)" filter="url(#b1)"/>
<rect x="331.09" y="288.40" width="13.02" height="2.20" rx="1.10" fill="rgb(102,102,102)" filter="url(#b1)"/>
<rect x="347.59" y="288.40" width="13.02" height="2.20" rx="1.10" fill="rgb(93,93,93)" filter="url(#b1)"/>
<rect x="364.09" y="287.25" width="13.02" height="4.50" rx="2.25" fill="rgb(18,18,18)" filter="url(#b1)"/>
<rect x="380.59" y="287.90" width="13.02" height="3.20" rx="1.60" fill="rgb(37,37,37)" filter="url(#b1)"/>
<rect x="397.09" y="287.90" width="13.02" height="3.20" rx="1.60" fill="rgb(37,37,37)" filter="url(#b1)"/>
<rect x="413.59" y="287.90" width="13.02" height="3.20" rx="1.60" fill="rgb(37,37,37)" filter="url(#b1)"/>
<rect x="364.09" y="291.50" width="13.02" height="3.00" rx="1.50" fill="rgb(55,55,55)" filter="url(#b1)"/>
<text x="433.00" y="297.00" font-size="12.75" text-anchor="start" font-weight="normal" font-style="normal" fill="#000" stroke="#000" stroke-width="0.14" >MCL-1</text>
<rect x="294.60" y="307.70" width="134.40" height="25.70" fill="#cdcdcd" />
<rect x="297.86" y="320.40" width="13.49" height="2.80" rx="1.40" fill="rgb(27,27,27)" filter="url(#b1)"/>
<rect x="314.36" y="320.50" width="13.49" height="2.60" rx="1.30" fill="rgb(46,46,46)" filter="url(#b1)"/>
<rect x="330.86" y="320.50" width="13.49" height="2.60" rx="1.30" fill="rgb(46,46,46)" filter="url(#b1)"/>
<rect x="347.36" y="320.50" width="13.49" height="2.60" rx="1.30" fill="rgb(37,37,37)" filter="url(#b1)"/>
<rect x="363.86" y="318.55" width="13.49" height="6.50" rx="2.50" fill="rgb(18,18,18)" filter="url(#b1)"/>
<rect x="380.36" y="319.50" width="13.49" height="4.60" rx="2.30" fill="rgb(18,18,18)" filter="url(#b1)"/>
<rect x="396.86" y="319.50" width="13.49" height="4.60" rx="2.30" fill="rgb(18,18,18)" filter="url(#b1)"/>
<rect x="413.36" y="319.40" width="13.49" height="4.80" rx="2.40" fill="rgb(18,18,18)" filter="url(#b1)"/>
<text x="433.00" y="325.80" font-size="12.75" text-anchor="start" font-weight="normal" font-style="normal" fill="#000" stroke="#000" stroke-width="0.14" >BCL-2</text>
<rect x="294.60" y="337.40" width="134.40" height="25.80" fill="#cdcdcd" />
<rect x="297.86" y="354.80" width="13.49" height="2.40" rx="1.20" fill="rgb(74,74,74)" filter="url(#b1)"/>
<rect x="314.36" y="354.80" width="13.49" height="2.40" rx="1.20" fill="rgb(74,74,74)" filter="url(#b1)"/>
<rect x="330.86" y="354.80" width="13.49" height="2.40" rx="1.20" fill="rgb(74,74,74)" filter="url(#b1)"/>
<rect x="347.36" y="354.80" width="13.49" height="2.40" rx="1.20" fill="rgb(74,74,74)" filter="url(#b1)"/>
<rect x="363.86" y="354.00" width="13.49" height="4.00" rx="2.00" fill="rgb(18,18,18)" filter="url(#b1)"/>
<rect x="380.36" y="354.10" width="13.49" height="3.80" rx="1.90" fill="rgb(18,18,18)" filter="url(#b1)"/>
<rect x="396.86" y="353.80" width="13.49" height="4.40" rx="2.20" fill="rgb(18,18,18)" filter="url(#b1)"/>
<rect x="413.36" y="354.00" width="13.49" height="4.00" rx="2.00" fill="rgb(18,18,18)" filter="url(#b1)"/>
<rect x="364.09" y="358.40" width="13.02" height="1.80" rx="0.90" fill="rgb(140,140,140)" filter="url(#b1)"/>
<rect x="380.59" y="358.40" width="13.02" height="1.80" rx="0.90" fill="rgb(140,140,140)" filter="url(#b1)"/>
<rect x="397.09" y="358.40" width="13.02" height="1.80" rx="0.90" fill="rgb(140,140,140)" filter="url(#b1)"/>
<rect x="413.59" y="358.40" width="13.02" height="1.80" rx="0.90" fill="rgb(140,140,140)" filter="url(#b1)"/>
<text x="433.00" y="354.50" font-size="12.75" text-anchor="start" font-weight="normal" font-style="normal" fill="#000" stroke="#000" stroke-width="0.14" >BCL-x<tspan font-size="7.5" dy="3.5">L</tspan></text>
<rect x="294.60" y="365.90" width="134.40" height="25.10" fill="#cdcdcd" />
<rect x="298.09" y="378.10" width="13.02" height="1.80" rx="0.90" fill="rgb(177,177,177)" filter="url(#b1)"/>
<rect x="314.59" y="378.10" width="13.02" height="1.80" rx="0.90" fill="rgb(179,179,179)" filter="url(#b1)"/>
<rect x="331.09" y="378.20" width="13.02" height="1.60" rx="0.80" fill="rgb(183,183,183)" filter="url(#b1)"/>
<rect x="347.59" y="378.20" width="13.02" height="1.60" rx="0.80" fill="rgb(186,186,186)" filter="url(#b1)"/>
<rect x="362.90" y="373.50" width="15.40" height="14.80" rx="2.5" fill="rgb(46,46,46)" filter="url(#b2)"/>
<rect x="363.90" y="375.50" width="13.39" height="5.40" rx="2.50" fill="rgb(18,18,18)" filter="url(#b1)"/>
<rect x="363.90" y="382.60" width="13.39" height="4.40" rx="2.20" fill="rgb(18,18,18)" filter="url(#b1)"/>
<rect x="379.40" y="373.50" width="15.40" height="14.80" rx="2.5" fill="rgb(46,46,46)" filter="url(#b2)"/>
<rect x="380.40" y="375.50" width="13.39" height="5.40" rx="2.50" fill="rgb(18,18,18)" filter="url(#b1)"/>
<rect x="380.40" y="382.60" width="13.39" height="4.40" rx="2.20" fill="rgb(18,18,18)" filter="url(#b1)"/>
<rect x="395.90" y="373.50" width="15.40" height="14.80" rx="2.5" fill="rgb(46,46,46)" filter="url(#b2)"/>
<rect x="396.90" y="375.50" width="13.39" height="5.40" rx="2.50" fill="rgb(18,18,18)" filter="url(#b1)"/>
<rect x="396.90" y="382.60" width="13.39" height="4.40" rx="2.20" fill="rgb(18,18,18)" filter="url(#b1)"/>
<rect x="412.40" y="373.50" width="15.40" height="14.80" rx="2.5" fill="rgb(46,46,46)" filter="url(#b2)"/>
<rect x="413.40" y="375.50" width="13.39" height="5.40" rx="2.50" fill="rgb(18,18,18)" filter="url(#b1)"/>
<rect x="413.40" y="382.60" width="13.39" height="4.40" rx="2.20" fill="rgb(18,18,18)" filter="url(#b1)"/>
<text x="433.00" y="384.00" font-size="12.75" text-anchor="start" font-weight="normal" font-style="normal" fill="#000" stroke="#000" stroke-width="0.14" >BIM</text>
<rect x="294.60" y="395.80" width="69.40" height="26.50" fill="#cdcdcd" />
<rect x="298.76" y="402.70" width="13.49" height="3.20" rx="1.60" fill="rgb(18,18,18)" filter="url(#b1)"/>
<rect x="315.26" y="403.00" width="13.49" height="2.60" rx="1.30" fill="rgb(46,46,46)" filter="url(#b1)"/>
<rect x="331.76" y="403.10" width="13.49" height="2.40" rx="1.20" fill="rgb(65,65,65)" filter="url(#b1)"/>
<rect x="348.26" y="403.20" width="13.49" height="2.20" rx="1.10" fill="rgb(112,112,112)" filter="url(#b1)"/>
<rect x="298.76" y="411.20" width="13.49" height="2.20" rx="1.10" fill="rgb(121,121,121)" filter="url(#b1)"/>
<rect x="315.26" y="410.50" width="13.49" height="3.60" rx="1.80" fill="rgb(18,18,18)" filter="url(#b1)"/>
<rect x="331.76" y="410.50" width="13.49" height="3.60" rx="1.80" fill="rgb(18,18,18)" filter="url(#b1)"/>
<rect x="348.26" y="410.50" width="13.49" height="3.60" rx="1.80" fill="rgb(18,18,18)" filter="url(#b1)"/>
<text x="433.00" y="412.70" font-size="12.75" text-anchor="start" font-weight="normal" font-style="normal" fill="#000" stroke="#000" stroke-width="0.14" >PARP</text>
<rect x="294.60" y="425.70" width="69.40" height="25.80" fill="#cdcdcd" />
<rect x="298.15" y="436.10" width="14.69" height="4.40" rx="2.20" fill="rgb(18,18,18)" filter="url(#b1)"/>
<rect x="314.65" y="436.10" width="14.69" height="4.40" rx="2.20" fill="rgb(18,18,18)" filter="url(#b1)"/>
<rect x="331.15" y="436.10" width="14.69" height="4.40" rx="2.20" fill="rgb(18,18,18)" filter="url(#b1)"/>
<rect x="347.65" y="436.10" width="14.69" height="4.40" rx="2.20" fill="rgb(18,18,18)" filter="url(#b1)"/>
<text x="433.00" y="441.50" font-size="12.75" text-anchor="start" font-weight="normal" font-style="normal" fill="#000" stroke="#000" stroke-width="0.14" >Actin</text>
<text x="0.60" y="483.50" font-size="17.2" text-anchor="start" font-weight="bold" font-style="normal" fill="#000" >E</text>
<line x1="67.60" y1="485.61" x2="67.60" y2="634.60" stroke="#000" stroke-width="1.3" />
<line x1="65.00" y1="631.30" x2="241.30" y2="631.30" stroke="#000" stroke-width="1.3" />
<line x1="63.70" y1="631.30" x2="67.60" y2="631.30" stroke="#000" stroke-width="1.1" />
<text x="63.00" y="634.20" font-size="8.2" text-anchor="end" font-weight="normal" font-style="normal" fill="#000" stroke="#000" stroke-width="0.25" >0</text>
<line x1="65.30" y1="624.36" x2="67.60" y2="624.36" stroke="#000" stroke-width="1.1" />
<line x1="63.70" y1="617.42" x2="67.60" y2="617.42" stroke="#000" stroke-width="1.1" />
<text x="63.00" y="620.32" font-size="8.2" text-anchor="end" font-weight="normal" font-style="normal" fill="#000" stroke="#000" stroke-width="0.25" >10</text>
<line x1="65.30" y1="610.49" x2="67.60" y2="610.49" stroke="#000" stroke-width="1.1" />
<line x1="63.70" y1="603.55" x2="67.60" y2="603.55" stroke="#000" stroke-width="1.1" />
<text x="63.00" y="606.45" font-size="8.2" text-anchor="end" font-weight="normal" font-style="normal" fill="#000" stroke="#000" stroke-width="0.25" >20</text>
<line x1="65.30" y1="596.61" x2="67.60" y2="596.61" stroke="#000" stroke-width="1.1" />
<line x1="63.70" y1="589.67" x2="67.60" y2="589.67" stroke="#000" stroke-width="1.1" />
<text x="63.00" y="592.57" font-size="8.2" text-anchor="end" font-weight="normal" font-style="normal" fill="#000" stroke="#000" stroke-width="0.25" >30</text>
<line x1="65.30" y1="582.74" x2="67.60" y2="582.74" stroke="#000" stroke-width="1.1" />
<line x1="63.70" y1="575.80" x2="67.60" y2="575.80" stroke="#000" stroke-width="1.1" />
<text x="63.00" y="578.70" font-size="8.2" text-anchor="end" font-weight="normal" font-style="normal" fill="#000" stroke="#000" stroke-width="0.25" >40</text>
<line x1="65.30" y1="568.86" x2="67.60" y2="568.86" stroke="#000" stroke-width="1.1" />
<line x1="63.70" y1="561.92" x2="67.60" y2="561.92" stroke="#000" stroke-width="1.1" />
<text x="63.00" y="564.82" font-size="8.2" text-anchor="end" font-weight="normal" font-style="normal" fill="#000" stroke="#000" stroke-width="0.25" >50</text>
<line x1="65.30" y1="554.99" x2="67.60" y2="554.99" stroke="#000" stroke-width="1.1" />
<line x1="63.70" y1="548.05" x2="67.60" y2="548.05" stroke="#000" stroke-width="1.1" />
<text x="63.00" y="550.95" font-size="8.2" text-anchor="end" font-weight="normal" font-style="normal" fill="#000" stroke="#000" stroke-width="0.25" >60</text>
<line x1="65.30" y1="541.11" x2="67.60" y2="541.11" stroke="#000" stroke-width="1.1" />
<line x1="63.70" y1="534.17" x2="67.60" y2="534.17" stroke="#000" stroke-width="1.1" />
<text x="63.00" y="537.07" font-size="8.2" text-anchor="end" font-weight="normal" font-style="normal" fill="#000" stroke="#000" stroke-width="0.25" >70</text>
<line x1="65.30" y1="527.24" x2="67.60" y2="527.24" stroke="#000" stroke-width="1.1" />
<line x1="63.70" y1="520.30" x2="67.60" y2="520.30" stroke="#000" stroke-width="1.1" />
<text x="63.00" y="523.20" font-size="8.2" text-anchor="end" font-weight="normal" font-style="normal" fill="#000" stroke="#000" stroke-width="0.25" >80</text>
<line x1="65.30" y1="513.36" x2="67.60" y2="513.36" stroke="#000" stroke-width="1.1" />
<line x1="63.70" y1="506.42" x2="67.60" y2="506.42" stroke="#000" stroke-width="1.1" />
<text x="63.00" y="509.32" font-size="8.2" text-anchor="end" font-weight="normal" font-style="normal" fill="#000" stroke="#000" stroke-width="0.25" >90</text>
<line x1="65.30" y1="499.49" x2="67.60" y2="499.49" stroke="#000" stroke-width="1.1" />
<line x1="63.70" y1="492.55" x2="67.60" y2="492.55" stroke="#000" stroke-width="1.1" />
<text x="63.00" y="495.45" font-size="8.2" text-anchor="end" font-weight="normal" font-style="normal" fill="#000" stroke="#000" stroke-width="0.25" >100</text>
<line x1="65.30" y1="485.61" x2="67.60" y2="485.61" stroke="#000" stroke-width="1.1" />
<text transform="translate(44.10,633.00) rotate(-90)" font-size="12.3" stroke="#000" stroke-width="0.2" textLength="155.3" lengthAdjust="spacingAndGlyphs">Percent Viable (Annexin-V<tspan font-size="8" dy="-4.5">-</tspan><tspan dy="4.5"> PI</tspan><tspan font-size="8" dy="-4.5">-</tspan><tspan dy="4.5">)</tspan></text>
<rect x="74.80" y="492.55" width="9.70" height="138.75" fill="#000" />
<line x1="79.65" y1="631.30" x2="79.65" y2="634.00" stroke="#000" stroke-width="1.1" />
<rect x="86.90" y="508.78" width="9.70" height="122.52" fill="#000" />
<line x1="91.75" y1="508.78" x2="91.75" y2="507.67" stroke="#333" stroke-width="1.0" />
<line x1="90.25" y1="507.67" x2="93.25" y2="507.67" stroke="#333" stroke-width="1.0" />
<line x1="91.75" y1="631.30" x2="91.75" y2="634.00" stroke="#000" stroke-width="1.1" />
<rect x="99.10" y="510.03" width="9.70" height="121.27" fill="#000" />
<line x1="103.95" y1="510.03" x2="103.95" y2="508.37" stroke="#333" stroke-width="1.0" />
<line x1="102.45" y1="508.37" x2="105.45" y2="508.37" stroke="#333" stroke-width="1.0" />
<line x1="103.95" y1="631.30" x2="103.95" y2="634.00" stroke="#000" stroke-width="1.1" />
<rect x="111.30" y="525.85" width="9.70" height="105.45" fill="#000" />
<line x1="116.15" y1="525.85" x2="116.15" y2="525.02" stroke="#333" stroke-width="1.0" />
<line x1="114.65" y1="525.02" x2="117.65" y2="525.02" stroke="#333" stroke-width="1.0" />
<line x1="116.15" y1="631.30" x2="116.15" y2="634.00" stroke="#000" stroke-width="1.1" />
<rect x="123.40" y="546.94" width="9.70" height="84.36" fill="#000" />
<line x1="128.25" y1="546.94" x2="128.25" y2="546.11" stroke="#333" stroke-width="1.0" />
<line x1="126.75" y1="546.11" x2="129.75" y2="546.11" stroke="#333" stroke-width="1.0" />
<line x1="128.25" y1="631.30" x2="128.25" y2="634.00" stroke="#000" stroke-width="1.1" />
<rect x="135.60" y="566.37" width="9.70" height="64.93" fill="#000" />
<line x1="140.45" y1="631.30" x2="140.45" y2="634.00" stroke="#000" stroke-width="1.1" />
<rect x="158.20" y="492.55" width="9.70" height="138.75" fill="#000" />
<line x1="163.05" y1="631.30" x2="163.05" y2="634.00" stroke="#000" stroke-width="1.1" />
<rect x="170.30" y="511.97" width="9.70" height="119.32" fill="#000" />
<line x1="175.15" y1="511.97" x2="175.15" y2="511.28" stroke="#333" stroke-width="1.0" />
<line x1="173.65" y1="511.28" x2="176.65" y2="511.28" stroke="#333" stroke-width="1.0" />
<line x1="175.15" y1="631.30" x2="175.15" y2="634.00" stroke="#000" stroke-width="1.1" />
<rect x="182.40" y="498.38" width="9.70" height="132.92" fill="#000" />
<line x1="187.25" y1="631.30" x2="187.25" y2="634.00" stroke="#000" stroke-width="1.1" />
<rect x="194.60" y="509.20" width="9.70" height="122.10" fill="#000" />
<line x1="199.45" y1="509.20" x2="199.45" y2="508.37" stroke="#333" stroke-width="1.0" />
<line x1="197.95" y1="508.37" x2="200.95" y2="508.37" stroke="#333" stroke-width="1.0" />
<line x1="199.45" y1="631.30" x2="199.45" y2="634.00" stroke="#000" stroke-width="1.1" />
<rect x="206.70" y="523.77" width="9.70" height="107.53" fill="#000" />
<line x1="211.55" y1="523.77" x2="211.55" y2="522.94" stroke="#333" stroke-width="1.0" />
<line x1="210.05" y1="522.94" x2="213.05" y2="522.94" stroke="#333" stroke-width="1.0" />
<line x1="211.55" y1="631.30" x2="211.55" y2="634.00" stroke="#000" stroke-width="1.1" />
<rect x="218.80" y="539.72" width="9.70" height="91.58" fill="#000" />
<line x1="223.65" y1="631.30" x2="223.65" y2="634.00" stroke="#000" stroke-width="1.1" />
<text x="79.65" y="645.00" font-size="9" text-anchor="middle" font-weight="normal" font-style="normal" fill="#000" stroke="#000" stroke-width="0.25" >-</text>
<text x="79.65" y="660.60" font-size="9.2" text-anchor="middle" font-weight="normal" font-style="normal" fill="#000" stroke="#000" stroke-width="0.25" >-</text>
<text transform="translate(94.97,636.80) rotate(-90)" font-size="9.0" text-anchor="end" fill="#000" stroke="#000" stroke-width="0.25">200</text>
<text x="91.75" y="660.60" font-size="9.2" text-anchor="middle" font-weight="normal" font-style="normal" fill="#000" stroke="#000" stroke-width="0.25" >-</text>
<text x="103.95" y="645.00" font-size="9" text-anchor="middle" font-weight="normal" font-style="normal" fill="#000" stroke="#000" stroke-width="0.25" >-</text>
<text x="103.95" y="660.60" font-size="9.2" text-anchor="middle" font-weight="normal" font-style="normal" fill="#000" stroke="#000" stroke-width="0.25" >+</text>
<text transform="translate(119.37,636.80) rotate(-90)" font-size="9.0" text-anchor="end" fill="#000" stroke="#000" stroke-width="0.25">50</text>
<text x="116.15" y="660.60" font-size="9.2" text-anchor="middle" font-weight="normal" font-style="normal" fill="#000" stroke="#000" stroke-width="0.25" >+</text>
<text transform="translate(131.47,636.80) rotate(-90)" font-size="9.0" text-anchor="end" fill="#000" stroke="#000" stroke-width="0.25">100</text>
<text x="128.25" y="660.60" font-size="9.2" text-anchor="middle" font-weight="normal" font-style="normal" fill="#000" stroke="#000" stroke-width="0.25" >+</text>
<text transform="translate(143.67,636.80) rotate(-90)" font-size="9.0" text-anchor="end" fill="#000" stroke="#000" stroke-width="0.25">200</text>
<text x="140.45" y="660.60" font-size="9.2" text-anchor="middle" font-weight="normal" font-style="normal" fill="#000" stroke="#000" stroke-width="0.25" >+</text>
<text x="163.05" y="645.00" font-size="9" text-anchor="middle" font-weight="normal" font-style="normal" fill="#000" stroke="#000" stroke-width="0.25" >-</text>
<text x="163.05" y="660.60" font-size="9.2" text-anchor="middle" font-weight="normal" font-style="normal" fill="#000" stroke="#000" stroke-width="0.25" >-</text>
<text transform="translate(178.37,636.80) rotate(-90)" font-size="9.0" text-anchor="end" fill="#000" stroke="#000" stroke-width="0.25">200</text>
<text x="175.15" y="660.60" font-size="9.2" text-anchor="middle" font-weight="normal" font-style="normal" fill="#000" stroke="#000" stroke-width="0.25" >-</text>
<text x="187.25" y="645.00" font-size="9" text-anchor="middle" font-weight="normal" font-style="normal" fill="#000" stroke="#000" stroke-width="0.25" >-</text>
<text x="187.25" y="660.60" font-size="9.2" text-anchor="middle" font-weight="normal" font-style="normal" fill="#000" stroke="#000" stroke-width="0.25" >+</text>
<text transform="translate(202.67,636.80) rotate(-90)" font-size="9.0" text-anchor="end" fill="#000" stroke="#000" stroke-width="0.25">50</text>
<text x="199.45" y="660.60" font-size="9.2" text-anchor="middle" font-weight="normal" font-style="normal" fill="#000" stroke="#000" stroke-width="0.25" >+</text>
<text transform="translate(214.77,636.80) rotate(-90)" font-size="9.0" text-anchor="end" fill="#000" stroke="#000" stroke-width="0.25">100</text>
<text x="211.55" y="660.60" font-size="9.2" text-anchor="middle" font-weight="normal" font-style="normal" fill="#000" stroke="#000" stroke-width="0.25" >+</text>
<text transform="translate(226.87,636.80) rotate(-90)" font-size="9.0" text-anchor="end" fill="#000" stroke="#000" stroke-width="0.25">200</text>
<text x="223.65" y="660.60" font-size="9.2" text-anchor="middle" font-weight="normal" font-style="normal" fill="#000" stroke="#000" stroke-width="0.25" >+</text>
<text x="65.90" y="647.00" font-size="9.7" text-anchor="end" font-weight="normal" font-style="normal" fill="#000" stroke="#000" stroke-width="0.25" >navitoclax [nM]</text>
<text x="65.50" y="662.00" font-size="9.9" text-anchor="end" font-weight="normal" font-style="normal" fill="#000" stroke="#000" stroke-width="0.25" >IM [2<tspan>µ</tspan>M]</text>
<line x1="78.30" y1="664.80" x2="146.10" y2="664.80" stroke="#000" stroke-width="1.4" />
<line x1="161.20" y1="664.80" x2="229.30" y2="664.80" stroke="#000" stroke-width="1.4" />
<text x="112.55" y="675.40" font-size="9.2" text-anchor="middle" font-weight="normal" font-style="normal" fill="#000" stroke="#000" stroke-width="0.25" >-IL-7</text>
<text x="195.15" y="675.40" font-size="9.2" text-anchor="middle" font-weight="normal" font-style="normal" fill="#000" stroke="#000" stroke-width="0.25" >+IL-7</text>
<line x1="103.25" y1="476.90" x2="187.95" y2="476.90" stroke="#000" stroke-width="1.55" />
<line x1="103.95" y1="476.90" x2="103.95" y2="503.40" stroke="#000" stroke-width="1.55" />
<path d="M101.95,504.30 L105.95,504.30 L105.15,502.40 L102.75,502.40Z" fill="#000"/>
<line x1="187.25" y1="476.90" x2="187.25" y2="483.00" stroke="#000" stroke-width="1.55" />
<path d="M185.25,483.90 L189.25,483.90 L188.45,482.00 L186.05,482.00Z" fill="#000"/>
<polygon points="145.60,470.10 146.36,471.65 148.07,471.90 146.84,473.10 147.13,474.80 145.60,474.00 144.07,474.80 144.36,473.10 143.13,471.90 144.84,471.65" fill="#000"/>
<line x1="103.95" y1="500.60" x2="141.15" y2="500.60" stroke="#000" stroke-width="1.55" />
<line x1="116.15" y1="500.60" x2="116.15" y2="519.50" stroke="#000" stroke-width="1.55" />
<path d="M114.15,520.40 L118.15,520.40 L117.35,518.50 L114.95,518.50Z" fill="#000"/>
<polygon points="116.15,493.60 116.91,495.15 118.62,495.40 117.39,496.60 117.68,498.30 116.15,497.50 114.62,498.30 114.91,496.60 113.68,495.40 115.39,495.15" fill="#000"/>
<line x1="128.25" y1="500.60" x2="128.25" y2="540.50" stroke="#000" stroke-width="1.55" />
<path d="M126.25,541.40 L130.25,541.40 L129.45,539.50 L127.05,539.50Z" fill="#000"/>
<polygon points="128.25,493.60 129.01,495.15 130.72,495.40 129.49,496.60 129.78,498.30 128.25,497.50 126.72,498.30 127.01,496.60 125.78,495.40 127.49,495.15" fill="#000"/>
<line x1="140.45" y1="500.60" x2="140.45" y2="556.50" stroke="#000" stroke-width="1.55" />
<path d="M138.45,557.40 L142.45,557.40 L141.65,555.50 L139.25,555.50Z" fill="#000"/>
<polygon points="140.45,493.60 141.21,495.15 142.92,495.40 141.69,496.60 141.98,498.30 140.45,497.50 138.92,498.30 139.21,496.60 137.98,495.40 139.69,495.15" fill="#000"/>
<line x1="186.55" y1="490.60" x2="224.35" y2="490.60" stroke="#000" stroke-width="1.55" />
<line x1="187.25" y1="490.60" x2="187.25" y2="493.50" stroke="#000" stroke-width="1.55" />
<path d="M185.25,494.40 L189.25,494.40 L188.45,492.50 L186.05,492.50Z" fill="#000"/>
<line x1="199.45" y1="490.60" x2="199.45" y2="505.50" stroke="#000" stroke-width="1.55" />
<path d="M197.45,506.40 L201.45,506.40 L200.65,504.50 L198.25,504.50Z" fill="#000"/>
<polygon points="199.45,483.60 200.21,485.15 201.92,485.40 200.69,486.60 200.98,488.30 199.45,487.50 197.92,488.30 198.21,486.60 196.98,485.40 198.69,485.15" fill="#000"/>
<line x1="211.55" y1="490.60" x2="211.55" y2="517.50" stroke="#000" stroke-width="1.55" />
<path d="M209.55,518.40 L213.55,518.40 L212.75,516.50 L210.35,516.50Z" fill="#000"/>
<polygon points="211.55,483.60 212.31,485.15 214.02,485.40 212.79,486.60 213.08,488.30 211.55,487.50 210.02,488.30 210.31,486.60 209.08,485.40 210.79,485.15" fill="#000"/>
<line x1="223.65" y1="490.60" x2="223.65" y2="535.00" stroke="#000" stroke-width="1.55" />
<path d="M221.65,535.90 L225.65,535.90 L224.85,534.00 L222.45,534.00Z" fill="#000"/>
<polygon points="223.65,483.60 224.41,485.15 226.12,485.40 224.89,486.60 225.18,488.30 223.65,487.50 222.12,488.30 222.41,486.60 221.18,485.40 222.89,485.15" fill="#000"/>
<text x="283.00" y="483.50" font-size="17.2" text-anchor="start" font-weight="bold" font-style="normal" fill="#000" >F</text>
<line x1="331.40" y1="485.61" x2="331.40" y2="634.60" stroke="#000" stroke-width="1.3" />
<line x1="328.80" y1="631.30" x2="504.50" y2="631.30" stroke="#000" stroke-width="1.3" />
<line x1="327.50" y1="631.30" x2="331.40" y2="631.30" stroke="#000" stroke-width="1.1" />
<text x="326.80" y="634.20" font-size="8.2" text-anchor="end" font-weight="normal" font-style="normal" fill="#000" stroke="#000" stroke-width="0.25" >0</text>
<line x1="329.10" y1="624.36" x2="331.40" y2="624.36" stroke="#000" stroke-width="1.1" />
<line x1="327.50" y1="617.42" x2="331.40" y2="617.42" stroke="#000" stroke-width="1.1" />
<text x="326.80" y="620.32" font-size="8.2" text-anchor="end" font-weight="normal" font-style="normal" fill="#000" stroke="#000" stroke-width="0.25" >10</text>
<line x1="329.10" y1="610.49" x2="331.40" y2="610.49" stroke="#000" stroke-width="1.1" />
<line x1="327.50" y1="603.55" x2="331.40" y2="603.55" stroke="#000" stroke-width="1.1" />
<text x="326.80" y="606.45" font-size="8.2" text-anchor="end" font-weight="normal" font-style="normal" fill="#000" stroke="#000" stroke-width="0.25" >20</text>
<line x1="329.10" y1="596.61" x2="331.40" y2="596.61" stroke="#000" stroke-width="1.1" />
<line x1="327.50" y1="589.67" x2="331.40" y2="589.67" stroke="#000" stroke-width="1.1" />
<text x="326.80" y="592.57" font-size="8.2" text-anchor="end" font-weight="normal" font-style="normal" fill="#000" stroke="#000" stroke-width="0.25" >30</text>
<line x1="329.10" y1="582.74" x2="331.40" y2="582.74" stroke="#000" stroke-width="1.1" />
<line x1="327.50" y1="575.80" x2="331.40" y2="575.80" stroke="#000" stroke-width="1.1" />
<text x="326.80" y="578.70" font-size="8.2" text-anchor="end" font-weight="normal" font-style="normal" fill="#000" stroke="#000" stroke-width="0.25" >40</text>
<line x1="329.10" y1="568.86" x2="331.40" y2="568.86" stroke="#000" stroke-width="1.1" />
<line x1="327.50" y1="561.92" x2="331.40" y2="561.92" stroke="#000" stroke-width="1.1" />
<text x="326.80" y="564.82" font-size="8.2" text-anchor="end" font-weight="normal" font-style="normal" fill="#000" stroke="#000" stroke-width="0.25" >50</text>
<line x1="329.10" y1="554.99" x2="331.40" y2="554.99" stroke="#000" stroke-width="1.1" />
<line x1="327.50" y1="548.05" x2="331.40" y2="548.05" stroke="#000" stroke-width="1.1" />
<text x="326.80" y="550.95" font-size="8.2" text-anchor="end" font-weight="normal" font-style="normal" fill="#000" stroke="#000" stroke-width="0.25" >60</text>
<line x1="329.10" y1="541.11" x2="331.40" y2="541.11" stroke="#000" stroke-width="1.1" />
<line x1="327.50" y1="534.17" x2="331.40" y2="534.17" stroke="#000" stroke-width="1.1" />
<text x="326.80" y="537.07" font-size="8.2" text-anchor="end" font-weight="normal" font-style="normal" fill="#000" stroke="#000" stroke-width="0.25" >70</text>
<line x1="329.10" y1="527.24" x2="331.40" y2="527.24" stroke="#000" stroke-width="1.1" />
<line x1="327.50" y1="520.30" x2="331.40" y2="520.30" stroke="#000" stroke-width="1.1" />
<text x="326.80" y="523.20" font-size="8.2" text-anchor="end" font-weight="normal" font-style="normal" fill="#000" stroke="#000" stroke-width="0.25" >80</text>
<line x1="329.10" y1="513.36" x2="331.40" y2="513.36" stroke="#000" stroke-width="1.1" />
<line x1="327.50" y1="506.42" x2="331.40" y2="506.42" stroke="#000" stroke-width="1.1" />
<text x="326.80" y="509.32" font-size="8.2" text-anchor="end" font-weight="normal" font-style="normal" fill="#000" stroke="#000" stroke-width="0.25" >90</text>
<line x1="329.10" y1="499.49" x2="331.40" y2="499.49" stroke="#000" stroke-width="1.1" />
<line x1="327.50" y1="492.55" x2="331.40" y2="492.55" stroke="#000" stroke-width="1.1" />
<text x="326.80" y="495.45" font-size="8.2" text-anchor="end" font-weight="normal" font-style="normal" fill="#000" stroke="#000" stroke-width="0.25" >100</text>
<line x1="329.10" y1="485.61" x2="331.40" y2="485.61" stroke="#000" stroke-width="1.1" />
<text transform="translate(306.80,635.00) rotate(-90)" font-size="12.3" stroke="#000" stroke-width="0.2" textLength="155.9" lengthAdjust="spacingAndGlyphs">Percent Viable (Annexin-V<tspan font-size="8" dy="-4.5">-</tspan><tspan dy="4.5"> PI</tspan><tspan font-size="8" dy="-4.5">-</tspan><tspan dy="4.5">)</tspan></text>
<rect x="338.20" y="492.55" width="9.70" height="138.75" fill="#000" />
<line x1="343.05" y1="631.30" x2="343.05" y2="634.00" stroke="#000" stroke-width="1.1" />
<rect x="350.40" y="509.20" width="9.70" height="122.10" fill="#000" />
<line x1="355.25" y1="509.20" x2="355.25" y2="506.70" stroke="#333" stroke-width="1.0" />
<line x1="353.75" y1="506.70" x2="356.75" y2="506.70" stroke="#333" stroke-width="1.0" />
<line x1="355.25" y1="631.30" x2="355.25" y2="634.00" stroke="#000" stroke-width="1.1" />
<rect x="362.60" y="514.06" width="9.70" height="117.24" fill="#000" />
<line x1="367.45" y1="631.30" x2="367.45" y2="634.00" stroke="#000" stroke-width="1.1" />
<rect x="374.70" y="527.51" width="9.70" height="103.78" fill="#000" />
<line x1="379.55" y1="631.30" x2="379.55" y2="634.00" stroke="#000" stroke-width="1.1" />
<rect x="386.80" y="547.36" width="9.70" height="83.94" fill="#000" />
<line x1="391.65" y1="631.30" x2="391.65" y2="634.00" stroke="#000" stroke-width="1.1" />
<rect x="399.00" y="573.02" width="9.70" height="58.27" fill="#000" />
<line x1="403.85" y1="631.30" x2="403.85" y2="634.00" stroke="#000" stroke-width="1.1" />
<rect x="422.40" y="492.55" width="9.70" height="138.75" fill="#000" />
<line x1="427.25" y1="631.30" x2="427.25" y2="634.00" stroke="#000" stroke-width="1.1" />
<rect x="434.50" y="511.97" width="9.70" height="119.32" fill="#000" />
<line x1="439.35" y1="631.30" x2="439.35" y2="634.00" stroke="#000" stroke-width="1.1" />
<rect x="446.60" y="498.10" width="9.70" height="133.20" fill="#000" />
<line x1="451.45" y1="631.30" x2="451.45" y2="634.00" stroke="#000" stroke-width="1.1" />
<rect x="458.80" y="509.20" width="9.70" height="122.10" fill="#000" />
<line x1="463.65" y1="631.30" x2="463.65" y2="634.00" stroke="#000" stroke-width="1.1" />
<rect x="470.90" y="523.07" width="9.70" height="108.23" fill="#000" />
<line x1="475.75" y1="631.30" x2="475.75" y2="634.00" stroke="#000" stroke-width="1.1" />
<rect x="483.00" y="539.03" width="9.70" height="92.27" fill="#000" />
<line x1="487.85" y1="631.30" x2="487.85" y2="634.00" stroke="#000" stroke-width="1.1" />
<text x="343.05" y="645.00" font-size="9" text-anchor="middle" font-weight="normal" font-style="normal" fill="#000" stroke="#000" stroke-width="0.25" >-</text>
<text x="343.05" y="660.60" font-size="9.2" text-anchor="middle" font-weight="normal" font-style="normal" fill="#000" stroke="#000" stroke-width="0.25" >-</text>
<text transform="translate(358.65,636.80) rotate(-90)" font-size="9.5" text-anchor="end" fill="#000" stroke="#000" stroke-width="0.25">200</text>
<text x="355.25" y="660.60" font-size="9.2" text-anchor="middle" font-weight="normal" font-style="normal" fill="#000" stroke="#000" stroke-width="0.25" >-</text>
<text x="367.45" y="645.00" font-size="9" text-anchor="middle" font-weight="normal" font-style="normal" fill="#000" stroke="#000" stroke-width="0.25" >-</text>
<text x="367.45" y="660.60" font-size="9.2" text-anchor="middle" font-weight="normal" font-style="normal" fill="#000" stroke="#000" stroke-width="0.25" >+</text>
<text transform="translate(382.95,636.80) rotate(-90)" font-size="9.5" text-anchor="end" fill="#000" stroke="#000" stroke-width="0.25">50</text>
<text x="379.55" y="660.60" font-size="9.2" text-anchor="middle" font-weight="normal" font-style="normal" fill="#000" stroke="#000" stroke-width="0.25" >+</text>
<text transform="translate(395.05,636.80) rotate(-90)" font-size="9.5" text-anchor="end" fill="#000" stroke="#000" stroke-width="0.25">100</text>
<text x="391.65" y="660.60" font-size="9.2" text-anchor="middle" font-weight="normal" font-style="normal" fill="#000" stroke="#000" stroke-width="0.25" >+</text>
<text transform="translate(407.25,636.80) rotate(-90)" font-size="9.5" text-anchor="end" fill="#000" stroke="#000" stroke-width="0.25">200</text>
<text x="403.85" y="660.60" font-size="9.2" text-anchor="middle" font-weight="normal" font-style="normal" fill="#000" stroke="#000" stroke-width="0.25" >+</text>
<text x="427.25" y="645.00" font-size="9" text-anchor="middle" font-weight="normal" font-style="normal" fill="#000" stroke="#000" stroke-width="0.25" >-</text>
<text x="427.25" y="660.60" font-size="9.2" text-anchor="middle" font-weight="normal" font-style="normal" fill="#000" stroke="#000" stroke-width="0.25" >-</text>
<text transform="translate(442.75,636.80) rotate(-90)" font-size="9.5" text-anchor="end" fill="#000" stroke="#000" stroke-width="0.25">200</text>
<text x="439.35" y="660.60" font-size="9.2" text-anchor="middle" font-weight="normal" font-style="normal" fill="#000" stroke="#000" stroke-width="0.25" >-</text>
<text x="451.45" y="645.00" font-size="9" text-anchor="middle" font-weight="normal" font-style="normal" fill="#000" stroke="#000" stroke-width="0.25" >-</text>
<text x="451.45" y="660.60" font-size="9.2" text-anchor="middle" font-weight="normal" font-style="normal" fill="#000" stroke="#000" stroke-width="0.25" >+</text>
<text transform="translate(467.05,636.80) rotate(-90)" font-size="9.5" text-anchor="end" fill="#000" stroke="#000" stroke-width="0.25">50</text>
<text x="463.65" y="660.60" font-size="9.2" text-anchor="middle" font-weight="normal" font-style="normal" fill="#000" stroke="#000" stroke-width="0.25" >+</text>
<text transform="translate(479.15,636.80) rotate(-90)" font-size="9.5" text-anchor="end" fill="#000" stroke="#000" stroke-width="0.25">100</text>
<text x="475.75" y="660.60" font-size="9.2" text-anchor="middle" font-weight="normal" font-style="normal" fill="#000" stroke="#000" stroke-width="0.25" >+</text>
<text transform="translate(491.25,636.80) rotate(-90)" font-size="9.5" text-anchor="end" fill="#000" stroke="#000" stroke-width="0.25">200</text>
<text x="487.85" y="660.60" font-size="9.2" text-anchor="middle" font-weight="normal" font-style="normal" fill="#000" stroke="#000" stroke-width="0.25" >+</text>
<text x="327.90" y="647.60" font-size="9.7" text-anchor="end" font-weight="normal" font-style="normal" fill="#000" stroke="#000" stroke-width="0.25" >navitoclax [nM]</text>
<text x="327.50" y="662.00" font-size="9.4" text-anchor="end" font-weight="normal" font-style="normal" fill="#000" stroke="#000" stroke-width="0.25" >DAS [3 nM]</text>
<line x1="341.70" y1="664.80" x2="409.50" y2="664.80" stroke="#000" stroke-width="1.4" />
<line x1="425.40" y1="664.80" x2="493.50" y2="664.80" stroke="#000" stroke-width="1.4" />
<text x="375.95" y="675.40" font-size="9.2" text-anchor="middle" font-weight="normal" font-style="normal" fill="#000" stroke="#000" stroke-width="0.25" >-IL-7</text>
<text x="458.15" y="675.40" font-size="9.2" text-anchor="middle" font-weight="normal" font-style="normal" fill="#000" stroke="#000" stroke-width="0.25" >+IL-7</text>
<line x1="367.65" y1="476.00" x2="453.05" y2="476.00" stroke="#000" stroke-width="1.55" />
<line x1="368.35" y1="476.00" x2="368.35" y2="502.50" stroke="#000" stroke-width="1.55" />
<path d="M366.35,503.40 L370.35,503.40 L369.55,501.50 L367.15,501.50Z" fill="#000"/>
<line x1="452.35" y1="476.00" x2="452.35" y2="483.80" stroke="#000" stroke-width="1.55" />
<path d="M450.35,484.70 L454.35,484.70 L453.55,482.80 L451.15,482.80Z" fill="#000"/>
<polygon points="407.65,469.20 408.41,470.75 410.12,471.00 408.89,472.20 409.18,473.90 407.65,473.10 406.12,473.90 406.41,472.20 405.18,471.00 406.89,470.75" fill="#000"/>
<line x1="368.35" y1="499.80" x2="405.45" y2="499.80" stroke="#000" stroke-width="1.55" />
<line x1="380.45" y1="499.80" x2="380.45" y2="518.80" stroke="#000" stroke-width="1.55" />
<path d="M378.45,519.70 L382.45,519.70 L381.65,517.80 L379.25,517.80Z" fill="#000"/>
<polygon points="380.45,492.80 381.21,494.35 382.92,494.60 381.69,495.80 381.98,497.50 380.45,496.70 378.92,497.50 379.21,495.80 377.98,494.60 379.69,494.35" fill="#000"/>
<line x1="392.55" y1="499.80" x2="392.55" y2="539.50" stroke="#000" stroke-width="1.55" />
<path d="M390.55,540.40 L394.55,540.40 L393.75,538.50 L391.35,538.50Z" fill="#000"/>
<polygon points="392.55,492.80 393.31,494.35 395.02,494.60 393.79,495.80 394.08,497.50 392.55,496.70 391.02,497.50 391.31,495.80 390.08,494.60 391.79,494.35" fill="#000"/>
<line x1="404.75" y1="499.80" x2="404.75" y2="556.50" stroke="#000" stroke-width="1.55" />
<path d="M402.75,557.40 L406.75,557.40 L405.95,555.50 L403.55,555.50Z" fill="#000"/>
<polygon points="404.75,492.80 405.51,494.35 407.22,494.60 405.99,495.80 406.28,497.50 404.75,496.70 403.22,497.50 403.51,495.80 402.28,494.60 403.99,494.35" fill="#000"/>
<line x1="451.65" y1="490.00" x2="489.45" y2="490.00" stroke="#000" stroke-width="1.55" />
<line x1="452.35" y1="490.00" x2="452.35" y2="493.30" stroke="#000" stroke-width="1.55" />
<path d="M450.35,494.20 L454.35,494.20 L453.55,492.30 L451.15,492.30Z" fill="#000"/>
<line x1="464.55" y1="490.00" x2="464.55" y2="504.50" stroke="#000" stroke-width="1.55" />
<path d="M462.55,505.40 L466.55,505.40 L465.75,503.50 L463.35,503.50Z" fill="#000"/>
<polygon points="464.55,483.00 465.31,484.55 467.02,484.80 465.79,486.00 466.08,487.70 464.55,486.90 463.02,487.70 463.31,486.00 462.08,484.80 463.79,484.55" fill="#000"/>
<line x1="476.65" y1="490.00" x2="476.65" y2="517.00" stroke="#000" stroke-width="1.55" />
<path d="M474.65,517.90 L478.65,517.90 L477.85,516.00 L475.45,516.00Z" fill="#000"/>
<polygon points="476.65,483.00 477.41,484.55 479.12,484.80 477.89,486.00 478.18,487.70 476.65,486.90 475.12,487.70 475.41,486.00 474.18,484.80 475.89,484.55" fill="#000"/>
<line x1="488.75" y1="490.00" x2="488.75" y2="535.00" stroke="#000" stroke-width="1.55" />
<path d="M486.75,535.90 L490.75,535.90 L489.95,534.00 L487.55,534.00Z" fill="#000"/>
<polygon points="488.75,483.00 489.51,484.55 491.22,484.80 489.99,486.00 490.28,487.70 488.75,486.90 487.22,487.70 487.51,486.00 486.28,484.80 487.99,484.55" fill="#000"/></svg>
</body></html>
